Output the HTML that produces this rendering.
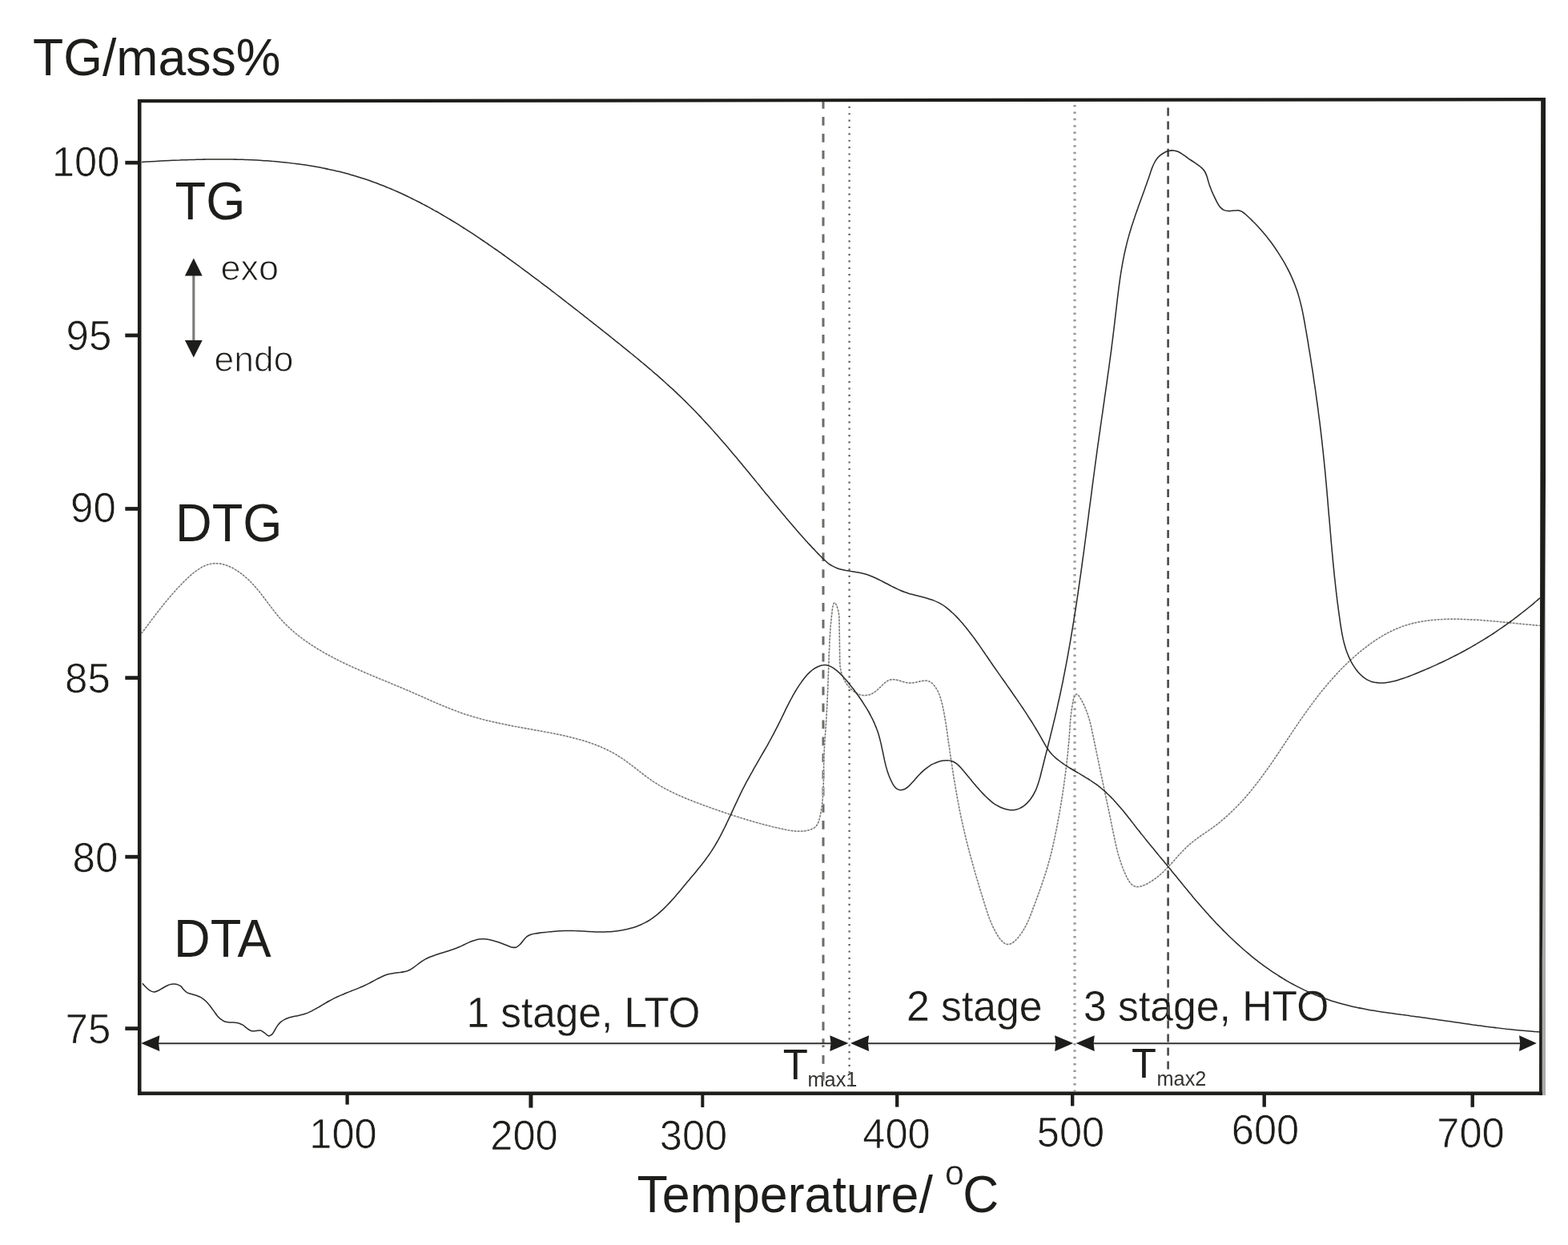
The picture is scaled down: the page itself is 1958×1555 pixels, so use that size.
<!DOCTYPE html>
<html lang="en">
<head>
<meta charset="utf-8">
<title>TG / DTG / DTA thermal analysis curves</title>
<style>
html,body{margin:0;padding:0;background:#fff;}
body{width:1958px;height:1555px;overflow:hidden;font-family:"Liberation Sans",Arial,Helvetica,sans-serif;}
svg{display:block;}
text{white-space:pre;}
</style>
</head>
<body>
<svg xmlns="http://www.w3.org/2000/svg" width="1958" height="1555" viewBox="0 0 1958 1555">
<rect width="1958" height="1555" fill="#fff"/>
<g id="labels" font-family="'Liberation Sans', Arial, Helvetica, sans-serif" fill="#1d1d1b" paint-order="fill stroke" stroke-linejoin="round">
<text transform="translate(41 93.6) scale(1 1.045)" font-size="62.6">TG/mass%</text>
<text transform="translate(149.3 220.2) scale(1 1.015)" font-size="50.6" text-anchor="end" stroke="#fff" stroke-width="0.7">100</text>
<text transform="translate(139.3 436.7) scale(1 1.015)" font-size="51" text-anchor="end" stroke="#fff" stroke-width="0.7">95</text>
<text transform="translate(144.8 652.2) scale(1 1.015)" font-size="51" text-anchor="end" stroke="#fff" stroke-width="0.7">90</text>
<text transform="translate(137.8 865.2) scale(1 1.015)" font-size="51" text-anchor="end" stroke="#fff" stroke-width="0.7">85</text>
<text transform="translate(147.3 1089.2) scale(1 1.015)" font-size="51" text-anchor="end" stroke="#fff" stroke-width="0.7">80</text>
<text transform="translate(138.3 1302.7) scale(1 1.015)" font-size="51" text-anchor="end" stroke="#fff" stroke-width="0.7">75</text>
<text transform="translate(428.5 1434.2) scale(1 1.015)" font-size="50.6" text-anchor="middle" stroke="#fff" stroke-width="0.7">100</text>
<text transform="translate(654.5 1435.6) scale(1 1.015)" font-size="50.6" text-anchor="middle" stroke="#fff" stroke-width="0.7">200</text>
<text transform="translate(866 1435.6) scale(1 1.015)" font-size="50.6" text-anchor="middle" stroke="#fff" stroke-width="0.7">300</text>
<text transform="translate(1119.5 1433.8) scale(1 1.015)" font-size="50.6" text-anchor="middle" stroke="#fff" stroke-width="0.7">400</text>
<text transform="translate(1337 1431.8) scale(1 1.015)" font-size="50.6" text-anchor="middle" stroke="#fff" stroke-width="0.7">500</text>
<text transform="translate(1580 1429.4) scale(1 1.015)" font-size="50.6" text-anchor="middle" stroke="#fff" stroke-width="0.7">600</text>
<text transform="translate(1836.5 1433) scale(1 1.015)" font-size="50.6" text-anchor="middle" stroke="#fff" stroke-width="0.7">700</text>
<text transform="translate(218.6 273.5) scale(1 1.045)" font-size="63.2">TG</text>
<text transform="translate(219 676.2) scale(1 1.045)" font-size="63.2">DTG</text>
<text transform="translate(217 1194.6) scale(1 1.045)" font-size="63.2">DTA</text>
<text x="275.6" y="350.4" font-size="45" stroke="#fff" stroke-width="1.0">exo</text>
<text x="267.6" y="464.3" font-size="44.4" stroke="#fff" stroke-width="1.0">endo</text>
<text transform="translate(582.5 1282.6) scale(1 1.03)" font-size="51.35" stroke="#fff" stroke-width="0.3">1 stage, LTO</text>
<text transform="translate(1132 1275.4) scale(1 1.03)" font-size="51.7" stroke="#fff" stroke-width="0.3">2 stage</text>
<text transform="translate(1353 1275.4) scale(1 1.03)" font-size="51.7" stroke="#fff" stroke-width="0.3">3 stage, HTO</text>
<text transform="translate(977.7 1348.2) scale(1 1.04)" font-size="51">T<tspan font-size="25.3" fill="#343432" dy="8.9" dx="-0.3">max1</tspan></text>
<text transform="translate(1413 1345.6) scale(1 1.04)" font-size="50.6">T<tspan font-size="25.3" fill="#343432" dy="9.8" dx="0.6">max2</tspan></text>
<text transform="translate(795.5 1514) scale(1 1.045)" font-size="62.7">Temperature/ <tspan font-size="43" dy="-33" dx="-2.2" stroke="#fff" stroke-width="0.5">o</tspan><tspan font-size="62.3" dy="33" dx="-1.6">C</tspan></text>
</g>
<g id="guides">
<line x1="1028" y1="125.1" x2="1028" y2="1358.5" stroke="#6c6c6a" stroke-width="3" stroke-dasharray="10.7 10.23"/>
<line x1="1060.6" y1="132.8" x2="1060.6" y2="1363" stroke="#626260" stroke-width="2.3" stroke-dasharray="2.2 6.17"/>
<line x1="1342" y1="131.1" x2="1342" y2="1363" stroke="#9a9a98" stroke-width="3.3" stroke-dasharray="2.5 5.87"/>
<line x1="1458.6" y1="134.6" x2="1458.6" y2="1335.6" stroke="#4a4a48" stroke-width="2.6" stroke-dasharray="10.1 6.912"/>
</g>
<g id="curves" fill="none" stroke-linejoin="round" stroke-linecap="butt">
<path d="M177.0 790.8C177.6 789.9 179.7 787.3 181.0 785.5C182.2 783.8 183.5 782.1 184.8 780.4C186.0 778.8 187.2 777.2 188.4 775.5C189.6 773.9 190.8 772.4 192.0 770.8C193.2 769.2 194.4 767.7 195.5 766.2C196.7 764.6 197.9 763.1 199.0 761.6C200.2 760.1 201.4 758.7 202.5 757.2C203.7 755.7 204.9 754.3 206.1 752.8C207.3 751.3 208.5 749.9 209.7 748.4C210.9 747.0 212.2 745.5 213.4 744.1C214.7 742.6 216.0 741.1 217.3 739.7C218.6 738.2 219.9 736.7 221.3 735.2C222.7 733.8 224.1 732.3 225.6 730.7C227.0 729.2 228.5 727.7 230.1 726.2C231.6 724.6 233.2 723.1 234.8 721.6C236.4 720.1 238.0 718.6 239.7 717.2C241.4 715.8 243.1 714.4 244.8 713.2C246.5 711.9 248.3 710.7 250.1 709.7C251.8 708.6 253.6 707.6 255.4 706.8C257.3 706.0 259.1 705.3 260.9 704.8C262.8 704.3 264.6 704.0 266.5 703.8C268.3 703.6 270.2 703.6 272.0 703.8C273.9 703.9 275.8 704.2 277.6 704.6C279.5 705.0 281.3 705.6 283.1 706.2C285.0 706.9 286.8 707.7 288.6 708.6C290.4 709.4 292.2 710.4 293.9 711.5C295.7 712.5 297.4 713.7 299.1 714.9C300.8 716.1 302.4 717.3 304.0 718.6C305.6 720.0 307.2 721.3 308.7 722.7C310.3 724.1 311.7 725.5 313.2 727.0C314.6 728.4 316.0 729.9 317.3 731.4C318.7 732.9 320.0 734.4 321.3 735.9C322.5 737.4 323.8 738.9 325.0 740.5C326.2 742.0 327.4 743.6 328.6 745.2C329.8 746.7 331.0 748.3 332.2 749.9C333.4 751.5 334.6 753.1 335.8 754.7C337.0 756.3 338.2 757.9 339.4 759.4C340.6 761.0 341.8 762.6 343.1 764.2C344.3 765.8 345.6 767.4 346.9 768.9C348.2 770.5 349.5 772.0 350.8 773.5C352.1 775.0 353.5 776.5 354.9 777.9C356.3 779.4 357.7 780.8 359.2 782.2C360.6 783.6 362.1 785.0 363.6 786.3C365.1 787.6 366.6 788.9 368.1 790.2C369.7 791.5 371.2 792.8 372.8 794.0C374.4 795.3 376.0 796.5 377.6 797.7C379.2 798.9 380.8 800.0 382.5 801.2C384.1 802.3 385.8 803.5 387.5 804.6C389.1 805.7 390.8 806.8 392.5 807.8C394.2 808.9 395.9 810.0 397.6 811.0C399.3 812.0 401.0 813.1 402.8 814.1C404.5 815.1 406.2 816.1 408.0 817.0C409.7 818.0 411.5 819.0 413.3 819.9C415.0 820.8 416.8 821.8 418.6 822.7C420.3 823.6 422.1 824.5 423.9 825.4C425.7 826.3 427.5 827.2 429.3 828.0C431.1 828.9 432.9 829.8 434.7 830.6C436.5 831.5 438.4 832.3 440.2 833.1C442.0 834.0 443.8 834.8 445.7 835.6C447.5 836.4 449.4 837.2 451.2 838.0C453.0 838.8 454.9 839.6 456.7 840.4C458.6 841.2 460.4 842.0 462.3 842.8C464.1 843.6 466.0 844.3 467.8 845.1C469.7 845.9 471.5 846.7 473.4 847.4C475.3 848.2 477.1 849.0 479.0 849.7C480.8 850.5 482.7 851.3 484.6 852.1C486.4 852.8 488.3 853.6 490.1 854.4C492.0 855.1 493.9 855.9 495.7 856.7C497.6 857.4 499.4 858.2 501.3 859.0C503.1 859.8 505.0 860.6 506.8 861.4C508.7 862.2 510.5 862.9 512.4 863.7C514.2 864.5 516.1 865.4 517.9 866.2C519.7 867.0 521.6 867.8 523.4 868.6C525.2 869.4 527.1 870.2 528.9 871.0C530.7 871.8 532.6 872.7 534.4 873.5C536.2 874.3 538.1 875.1 539.9 875.9C541.8 876.7 543.6 877.5 545.4 878.3C547.3 879.1 549.1 879.8 550.9 880.6C552.8 881.4 554.6 882.2 556.5 882.9C558.3 883.7 560.2 884.4 562.0 885.2C563.9 885.9 565.7 886.6 567.6 887.3C569.5 888.0 571.3 888.7 573.2 889.4C575.1 890.1 576.9 890.7 578.8 891.4C580.7 892.0 582.6 892.6 584.5 893.2C586.4 893.8 588.3 894.4 590.2 895.0C592.1 895.6 594.0 896.1 595.9 896.6C597.9 897.2 599.8 897.7 601.7 898.2C603.6 898.7 605.6 899.2 607.5 899.7C609.5 900.2 611.4 900.6 613.3 901.1C615.3 901.6 617.2 902.0 619.2 902.4C621.2 902.9 623.1 903.3 625.1 903.7C627.0 904.1 629.0 904.5 631.0 904.9C632.9 905.3 634.9 905.7 636.9 906.1C638.9 906.5 640.8 906.9 642.8 907.3C644.8 907.6 646.8 908.0 648.8 908.4C650.8 908.7 652.8 909.1 654.7 909.4C656.7 909.8 658.7 910.2 660.7 910.5C662.7 910.9 664.7 911.2 666.7 911.6C668.7 911.9 670.7 912.3 672.7 912.6C674.7 913.0 676.7 913.4 678.7 913.7C680.7 914.1 682.7 914.5 684.7 914.8C686.6 915.2 688.6 915.6 690.6 916.0C692.6 916.4 694.6 916.8 696.6 917.2C698.6 917.6 700.5 918.0 702.5 918.4C704.5 918.8 706.4 919.3 708.4 919.7C710.4 920.2 712.3 920.7 714.3 921.2C716.2 921.6 718.1 922.1 720.1 922.7C722.0 923.2 723.9 923.7 725.8 924.3C727.8 924.8 729.7 925.4 731.6 926.0C733.5 926.6 735.3 927.3 737.2 927.9C739.1 928.6 741.0 929.2 742.8 929.9C744.7 930.6 746.5 931.4 748.3 932.1C750.1 932.9 752.0 933.6 753.8 934.5C755.6 935.3 757.3 936.1 759.1 937.0C760.9 937.9 762.6 938.8 764.4 939.7C766.1 940.7 767.8 941.6 769.5 942.6C771.2 943.7 772.9 944.7 774.6 945.8C776.3 946.9 777.9 948.0 779.6 949.2C781.2 950.3 782.8 951.5 784.5 952.7C786.1 953.9 787.7 955.1 789.3 956.3C790.9 957.5 792.5 958.8 794.1 960.0C795.7 961.3 797.3 962.5 798.9 963.8C800.5 965.0 802.1 966.2 803.8 967.5C805.4 968.7 807.0 969.9 808.6 971.1C810.3 972.3 811.9 973.5 813.6 974.6C815.2 975.7 816.9 976.9 818.6 977.9C820.3 979.0 822.0 980.1 823.7 981.1C825.5 982.1 827.2 983.1 829.0 984.1C830.7 985.1 832.5 986.0 834.3 986.9C836.0 987.9 837.8 988.7 839.6 989.6C841.4 990.5 843.2 991.4 845.1 992.2C846.9 993.0 848.7 993.8 850.6 994.6C852.4 995.4 854.3 996.2 856.1 997.0C858.0 997.8 859.8 998.5 861.7 999.3C863.6 1000.0 865.4 1000.7 867.3 1001.5C869.2 1002.2 871.1 1002.9 873.0 1003.6C874.8 1004.3 876.7 1005.0 878.6 1005.7C880.5 1006.4 882.4 1007.1 884.3 1007.7C886.2 1008.4 888.1 1009.1 889.9 1009.8C891.8 1010.4 893.7 1011.1 895.6 1011.8C897.5 1012.4 899.4 1013.1 901.3 1013.7C903.2 1014.4 905.1 1015.0 907.0 1015.7C908.9 1016.3 910.8 1016.9 912.7 1017.6C914.6 1018.2 916.5 1018.8 918.4 1019.4C920.3 1020.0 922.2 1020.6 924.1 1021.2C926.0 1021.8 927.9 1022.4 929.9 1023.0C931.8 1023.6 933.7 1024.2 935.6 1024.7C937.5 1025.3 939.4 1025.9 941.4 1026.4C943.3 1027.0 945.2 1027.5 947.2 1028.0C949.1 1028.6 951.0 1029.1 953.0 1029.6C954.9 1030.1 956.8 1030.6 958.8 1031.1C960.7 1031.6 962.7 1032.1 964.6 1032.6C966.6 1033.0 968.5 1033.5 970.5 1033.9C972.5 1034.4 974.4 1034.8 976.4 1035.3C978.4 1035.7 980.3 1036.1 982.3 1036.5C984.3 1036.9 986.3 1037.2 988.3 1037.5C990.2 1037.8 992.2 1038.0 994.2 1038.2C996.2 1038.3 998.3 1038.3 1000.3 1038.2C1002.3 1038.2 1004.3 1038.0 1006.4 1037.6C1008.4 1037.3 1010.5 1036.8 1012.4 1036.1C1014.3 1035.4 1016.2 1034.5 1017.6 1033.3C1019.1 1032.1 1020.2 1030.5 1021.1 1028.8C1022.0 1027.1 1022.6 1025.0 1023.2 1023.1C1023.7 1021.1 1024.1 1019.0 1024.5 1017.0C1025.0 1015.0 1025.3 1013.0 1025.6 1011.0C1026.0 1008.9 1026.3 1006.9 1026.5 1004.9C1026.8 1002.9 1027.0 1000.9 1027.2 998.9C1027.4 996.9 1027.5 994.9 1027.7 992.9C1027.8 990.9 1027.9 988.9 1028.0 986.9C1028.1 984.9 1028.2 982.9 1028.2 980.9C1028.3 978.9 1028.4 976.9 1028.4 974.9C1028.4 972.9 1028.5 970.9 1028.5 968.9C1028.5 967.0 1028.5 965.0 1028.5 963.0C1028.6 961.0 1028.6 959.0 1028.6 957.0C1028.6 955.0 1028.7 953.0 1028.7 951.0C1028.8 949.0 1028.8 947.0 1028.9 945.0C1029.0 943.0 1029.1 940.9 1029.2 938.9C1029.3 936.9 1029.4 934.9 1029.5 932.9C1029.6 930.9 1029.7 928.9 1029.9 926.9C1030.0 924.8 1030.1 922.8 1030.3 920.8C1030.4 918.8 1030.6 916.8 1030.7 914.8C1030.9 912.8 1031.0 910.7 1031.2 908.7C1031.3 906.7 1031.4 904.7 1031.6 902.7C1031.7 900.7 1031.8 898.7 1032.0 896.7C1032.1 894.7 1032.2 892.7 1032.3 890.8C1032.4 888.8 1032.5 886.8 1032.6 884.8C1032.7 882.8 1032.8 880.8 1032.9 878.8C1033.0 876.8 1033.1 874.9 1033.2 872.9C1033.3 870.9 1033.4 868.9 1033.4 866.9C1033.5 864.9 1033.6 862.9 1033.7 860.9C1033.8 858.9 1033.8 856.9 1033.9 854.9C1034.0 852.9 1034.1 850.9 1034.1 848.9C1034.2 846.9 1034.3 844.9 1034.4 842.9C1034.4 840.9 1034.5 838.9 1034.6 836.9C1034.6 834.9 1034.7 832.8 1034.8 830.8C1034.9 828.8 1034.9 826.7 1035.0 824.7C1035.1 822.6 1035.2 820.6 1035.2 818.5C1035.3 816.5 1035.4 814.4 1035.5 812.4C1035.6 810.3 1035.7 808.2 1035.8 806.2C1035.8 804.2 1035.9 802.1 1036.0 800.1C1036.1 798.2 1036.2 796.2 1036.4 794.2C1036.5 792.3 1036.6 790.4 1036.7 788.6C1036.8 786.7 1037.0 785.0 1037.1 783.1C1037.2 781.3 1037.4 779.6 1037.6 777.7C1037.8 775.7 1038.0 773.8 1038.2 771.6C1038.4 769.3 1038.7 766.8 1039.0 764.3C1039.3 761.8 1039.7 758.4 1040.2 756.5C1040.7 754.6 1041.3 752.7 1042.1 752.8C1042.8 752.8 1044.0 754.9 1044.8 756.7C1045.6 758.5 1046.4 761.3 1046.9 763.4C1047.4 765.5 1047.6 767.5 1047.8 769.5C1048.0 771.5 1048.0 773.3 1048.0 775.3C1048.1 777.2 1048.1 779.1 1048.1 781.1C1048.1 783.0 1048.1 785.0 1048.2 787.0C1048.2 789.0 1048.2 791.0 1048.3 793.0C1048.3 795.0 1048.3 797.0 1048.4 799.0C1048.4 801.0 1048.4 803.1 1048.4 805.1C1048.5 807.1 1048.5 809.2 1048.5 811.2C1048.5 813.2 1048.6 815.3 1048.6 817.3C1048.6 819.3 1048.6 821.4 1048.6 823.4C1048.7 825.4 1048.7 827.4 1048.9 829.4C1049.0 831.4 1049.2 833.4 1049.6 835.3C1049.9 837.3 1050.3 839.3 1050.9 841.2C1051.5 843.1 1052.2 845.0 1053.0 846.8C1053.8 848.7 1054.8 850.5 1055.9 852.2C1056.9 853.9 1058.1 855.6 1059.4 857.1C1060.7 858.7 1062.2 860.2 1063.7 861.6C1065.2 862.9 1066.9 864.2 1068.6 865.2C1070.3 866.2 1072.1 867.1 1074.0 867.7C1075.8 868.2 1077.7 868.6 1079.6 868.6C1081.5 868.6 1083.5 868.3 1085.4 867.8C1087.3 867.2 1089.2 866.3 1091.0 865.2C1092.8 864.1 1094.4 862.7 1096.0 861.3C1097.6 859.9 1099.1 858.3 1100.7 856.8C1102.2 855.4 1103.7 853.8 1105.2 852.6C1106.8 851.4 1108.4 850.3 1110.1 849.6C1111.8 848.9 1113.6 848.6 1115.4 848.6C1117.3 848.6 1119.3 849.1 1121.3 849.6C1123.4 850.1 1125.5 850.8 1127.5 851.4C1129.5 851.9 1131.6 852.6 1133.6 852.8C1135.6 853.1 1137.4 853.1 1139.3 852.9C1141.3 852.8 1143.1 852.3 1145.1 851.9C1147.0 851.5 1149.1 850.9 1151.2 850.6C1153.2 850.3 1155.4 849.9 1157.4 850.2C1159.3 850.5 1161.1 851.3 1162.7 852.4C1164.3 853.5 1165.7 855.2 1167.0 856.8C1168.2 858.3 1169.3 860.1 1170.3 861.8C1171.3 863.6 1172.1 865.4 1172.8 867.2C1173.6 869.1 1174.2 871.0 1174.8 872.9C1175.4 874.8 1175.9 876.8 1176.4 878.8C1176.9 880.7 1177.3 882.7 1177.7 884.7C1178.1 886.6 1178.5 888.6 1178.9 890.6C1179.2 892.6 1179.6 894.5 1179.9 896.5C1180.3 898.5 1180.6 900.5 1180.9 902.5C1181.2 904.5 1181.5 906.4 1181.8 908.4C1182.1 910.4 1182.4 912.4 1182.7 914.4C1183.0 916.4 1183.2 918.3 1183.5 920.3C1183.8 922.3 1184.1 924.3 1184.3 926.3C1184.6 928.3 1184.9 930.2 1185.2 932.2C1185.5 934.2 1185.8 936.2 1186.0 938.2C1186.3 940.1 1186.6 942.1 1186.9 944.1C1187.2 946.1 1187.5 948.1 1187.8 950.0C1188.1 952.0 1188.4 954.0 1188.7 956.0C1189.0 957.9 1189.3 959.9 1189.6 961.9C1189.9 963.9 1190.2 965.9 1190.5 967.8C1190.8 969.8 1191.2 971.8 1191.5 973.8C1191.8 975.7 1192.1 977.7 1192.5 979.7C1192.8 981.6 1193.1 983.6 1193.5 985.6C1193.8 987.6 1194.2 989.5 1194.5 991.5C1194.9 993.5 1195.2 995.5 1195.6 997.4C1195.9 999.4 1196.3 1001.4 1196.7 1003.3C1197.1 1005.3 1197.4 1007.3 1197.8 1009.3C1198.2 1011.2 1198.6 1013.2 1199.0 1015.2C1199.4 1017.1 1199.8 1019.1 1200.2 1021.1C1200.6 1023.0 1201.1 1025.0 1201.5 1027.0C1201.9 1028.9 1202.4 1030.9 1202.8 1032.9C1203.2 1034.8 1203.7 1036.8 1204.2 1038.8C1204.6 1040.7 1205.1 1042.7 1205.6 1044.7C1206.0 1046.6 1206.5 1048.6 1207.0 1050.6C1207.5 1052.5 1208.0 1054.5 1208.5 1056.5C1209.0 1058.4 1209.5 1060.4 1210.0 1062.3C1210.5 1064.3 1211.1 1066.2 1211.6 1068.2C1212.1 1070.1 1212.6 1072.1 1213.2 1074.0C1213.7 1076.0 1214.3 1077.9 1214.8 1079.9C1215.3 1081.8 1215.9 1083.7 1216.4 1085.7C1217.0 1087.6 1217.6 1089.5 1218.1 1091.5C1218.7 1093.4 1219.2 1095.3 1219.8 1097.2C1220.4 1099.1 1220.9 1101.0 1221.5 1103.0C1222.1 1104.9 1222.7 1106.8 1223.2 1108.7C1223.8 1110.6 1224.4 1112.4 1224.9 1114.3C1225.5 1116.2 1226.1 1118.1 1226.7 1120.0C1227.3 1121.8 1227.8 1123.7 1228.4 1125.6C1229.0 1127.4 1229.6 1129.3 1230.1 1131.1C1230.7 1133.0 1231.3 1134.8 1231.9 1136.6C1232.5 1138.5 1233.1 1140.3 1233.7 1142.2C1234.4 1144.0 1235.0 1145.9 1235.8 1147.8C1236.5 1149.7 1237.3 1151.6 1238.1 1153.5C1239.0 1155.4 1239.8 1157.4 1240.8 1159.4C1241.8 1161.4 1242.9 1163.5 1244.1 1165.5C1245.2 1167.5 1246.5 1169.7 1247.8 1171.5C1249.2 1173.3 1250.6 1175.1 1252.1 1176.4C1253.5 1177.7 1255.1 1178.8 1256.6 1179.2C1258.2 1179.6 1259.8 1179.6 1261.5 1179.0C1263.1 1178.5 1264.8 1177.4 1266.4 1176.1C1268.0 1174.8 1269.6 1173.0 1271.1 1171.3C1272.5 1169.6 1273.9 1167.7 1275.2 1165.9C1276.5 1164.1 1277.6 1162.3 1278.7 1160.5C1279.8 1158.7 1280.7 1156.9 1281.6 1155.1C1282.5 1153.3 1283.4 1151.5 1284.2 1149.7C1284.9 1147.9 1285.7 1146.1 1286.4 1144.3C1287.1 1142.5 1287.8 1140.7 1288.5 1138.9C1289.1 1137.1 1289.8 1135.2 1290.5 1133.4C1291.2 1131.6 1291.9 1129.7 1292.6 1127.9C1293.3 1126.0 1294.0 1124.1 1294.7 1122.3C1295.3 1120.4 1296.0 1118.5 1296.7 1116.6C1297.4 1114.7 1298.1 1112.8 1298.8 1110.9C1299.4 1109.1 1300.1 1107.1 1300.8 1105.2C1301.4 1103.3 1302.1 1101.4 1302.7 1099.5C1303.4 1097.6 1304.0 1095.6 1304.6 1093.7C1305.3 1091.8 1305.9 1089.9 1306.5 1087.9C1307.1 1086.0 1307.6 1084.1 1308.2 1082.1C1308.8 1080.2 1309.3 1078.2 1309.8 1076.3C1310.4 1074.3 1310.9 1072.4 1311.4 1070.5C1311.9 1068.5 1312.4 1066.6 1312.9 1064.6C1313.3 1062.7 1313.8 1060.7 1314.3 1058.7C1314.7 1056.8 1315.2 1054.8 1315.6 1052.9C1316.0 1050.9 1316.5 1049.0 1316.9 1047.0C1317.3 1045.1 1317.7 1043.1 1318.1 1041.1C1318.5 1039.2 1318.9 1037.2 1319.3 1035.3C1319.7 1033.3 1320.0 1031.3 1320.4 1029.4C1320.8 1027.4 1321.1 1025.5 1321.5 1023.5C1321.9 1021.5 1322.2 1019.6 1322.6 1017.6C1322.9 1015.6 1323.3 1013.7 1323.6 1011.7C1324.0 1009.7 1324.3 1007.8 1324.6 1005.8C1324.9 1003.8 1325.3 1001.9 1325.6 999.9C1325.9 997.9 1326.2 995.9 1326.5 993.9C1326.8 992.0 1327.1 990.0 1327.4 988.0C1327.7 986.0 1328.0 984.0 1328.3 982.0C1328.6 980.0 1328.9 978.0 1329.1 976.0C1329.4 974.0 1329.7 972.0 1329.9 970.0C1330.2 967.9 1330.5 965.9 1330.7 963.9C1331.0 961.9 1331.2 959.8 1331.5 957.8C1331.7 955.8 1331.9 953.7 1332.2 951.7C1332.4 949.7 1332.6 947.7 1332.8 945.6C1333.0 943.6 1333.3 941.6 1333.5 939.6C1333.7 937.6 1333.9 935.6 1334.0 933.6C1334.2 931.6 1334.4 929.6 1334.6 927.7C1334.7 925.7 1334.9 923.8 1335.1 921.8C1335.2 919.9 1335.4 918.0 1335.5 916.1C1335.6 914.2 1335.7 912.4 1335.9 910.5C1336.0 908.6 1336.1 906.8 1336.3 904.9C1336.4 903.0 1336.6 901.1 1336.7 899.1C1336.9 897.2 1337.1 895.2 1337.3 893.1C1337.6 891.0 1337.8 888.9 1338.2 886.6C1338.5 884.4 1338.8 882.0 1339.3 879.6C1339.7 877.3 1340.1 874.5 1340.7 872.5C1341.3 870.5 1342.0 868.4 1342.9 867.6C1343.7 866.9 1344.8 867.0 1345.9 867.9C1347.0 868.7 1348.3 870.7 1349.4 872.6C1350.6 874.5 1351.9 877.0 1352.9 879.2C1354.0 881.5 1355.0 883.7 1355.9 885.9C1356.7 888.0 1357.5 890.1 1358.2 892.1C1358.9 894.2 1359.5 896.2 1360.1 898.1C1360.7 900.1 1361.2 902.0 1361.7 903.9C1362.1 905.8 1362.5 907.7 1363.0 909.5C1363.4 911.4 1363.8 913.3 1364.1 915.1C1364.5 917.0 1364.9 918.9 1365.3 920.8C1365.7 922.7 1366.1 924.6 1366.5 926.5C1366.9 928.4 1367.3 930.3 1367.7 932.2C1368.1 934.2 1368.5 936.1 1368.9 938.0C1369.3 939.9 1369.7 941.9 1370.1 943.8C1370.5 945.8 1370.9 947.7 1371.3 949.7C1371.7 951.6 1372.2 953.6 1372.6 955.6C1373.0 957.5 1373.4 959.5 1373.8 961.5C1374.2 963.4 1374.6 965.4 1375.0 967.4C1375.5 969.3 1375.9 971.3 1376.3 973.3C1376.7 975.3 1377.1 977.2 1377.5 979.2C1378.0 981.2 1378.4 983.2 1378.8 985.1C1379.2 987.1 1379.6 989.1 1380.0 991.1C1380.4 993.0 1380.9 995.0 1381.3 997.0C1381.7 998.9 1382.1 1000.9 1382.5 1002.9C1382.9 1004.8 1383.3 1006.8 1383.8 1008.7C1384.2 1010.7 1384.6 1012.7 1385.0 1014.6C1385.4 1016.6 1385.8 1018.5 1386.2 1020.5C1386.6 1022.4 1387.0 1024.4 1387.4 1026.3C1387.8 1028.3 1388.2 1030.2 1388.6 1032.2C1389.0 1034.1 1389.4 1036.1 1389.8 1038.0C1390.2 1040.0 1390.6 1041.9 1391.0 1043.9C1391.4 1045.8 1391.8 1047.8 1392.2 1049.7C1392.6 1051.6 1393.0 1053.6 1393.5 1055.5C1393.9 1057.5 1394.4 1059.4 1394.9 1061.4C1395.4 1063.3 1395.9 1065.2 1396.4 1067.2C1397.0 1069.1 1397.6 1071.1 1398.2 1073.0C1398.8 1074.9 1399.4 1076.9 1400.1 1078.8C1400.8 1080.8 1401.5 1082.7 1402.2 1084.7C1403.0 1086.6 1403.8 1088.6 1404.7 1090.5C1405.5 1092.4 1406.4 1094.4 1407.4 1096.3C1408.4 1098.2 1409.4 1100.1 1410.6 1101.7C1411.8 1103.2 1413.0 1104.7 1414.4 1105.7C1415.9 1106.7 1417.4 1107.4 1419.1 1107.6C1420.9 1107.8 1422.8 1107.5 1424.7 1107.0C1426.6 1106.5 1428.6 1105.6 1430.6 1104.7C1432.6 1103.8 1434.5 1102.6 1436.4 1101.5C1438.3 1100.4 1440.1 1099.1 1441.8 1097.9C1443.5 1096.7 1445.2 1095.4 1446.8 1094.1C1448.4 1092.8 1449.9 1091.4 1451.4 1090.0C1452.9 1088.7 1454.4 1087.2 1455.8 1085.8C1457.2 1084.4 1458.6 1083.0 1459.9 1081.5C1461.3 1080.1 1462.6 1078.6 1464.0 1077.1C1465.3 1075.6 1466.6 1074.2 1467.9 1072.7C1469.2 1071.2 1470.5 1069.8 1471.8 1068.3C1473.2 1066.8 1474.5 1065.4 1475.8 1064.0C1477.2 1062.5 1478.6 1061.1 1480.0 1059.7C1481.4 1058.4 1482.8 1057.0 1484.3 1055.7C1485.8 1054.3 1487.3 1053.1 1488.9 1051.8C1490.4 1050.5 1492.0 1049.3 1493.7 1048.1C1495.3 1046.9 1497.0 1045.7 1498.7 1044.5C1500.3 1043.4 1502.0 1042.2 1503.7 1041.0C1505.4 1039.9 1507.1 1038.7 1508.8 1037.6C1510.5 1036.4 1512.2 1035.2 1513.9 1034.0C1515.5 1032.8 1517.2 1031.6 1518.8 1030.4C1520.4 1029.1 1522.0 1027.9 1523.6 1026.6C1525.1 1025.3 1526.7 1024.0 1528.2 1022.7C1529.7 1021.4 1531.2 1020.1 1532.7 1018.7C1534.2 1017.4 1535.7 1016.0 1537.1 1014.7C1538.6 1013.3 1540.0 1011.9 1541.4 1010.5C1542.8 1009.1 1544.2 1007.7 1545.6 1006.2C1547.0 1004.8 1548.4 1003.4 1549.7 1001.9C1551.1 1000.4 1552.4 999.0 1553.7 997.5C1555.0 996.0 1556.3 994.5 1557.6 993.0C1558.9 991.5 1560.2 990.0 1561.5 988.4C1562.7 986.9 1564.0 985.3 1565.2 983.8C1566.5 982.2 1567.7 980.7 1568.9 979.1C1570.1 977.5 1571.3 975.9 1572.5 974.4C1573.7 972.8 1574.9 971.2 1576.1 969.6C1577.3 968.0 1578.5 966.3 1579.6 964.7C1580.8 963.1 1582.0 961.5 1583.1 959.8C1584.3 958.2 1585.4 956.6 1586.5 954.9C1587.7 953.3 1588.8 951.6 1590.0 950.0C1591.1 948.3 1592.2 946.7 1593.3 945.0C1594.5 943.4 1595.6 941.7 1596.7 940.0C1597.8 938.4 1598.9 936.7 1600.0 935.0C1601.1 933.3 1602.3 931.7 1603.4 930.0C1604.5 928.3 1605.6 926.6 1606.7 925.0C1607.8 923.3 1608.9 921.6 1610.0 919.9C1611.2 918.3 1612.3 916.6 1613.4 914.9C1614.5 913.2 1615.6 911.6 1616.7 909.9C1617.9 908.2 1619.0 906.5 1620.1 904.9C1621.3 903.2 1622.4 901.5 1623.5 899.9C1624.7 898.2 1625.8 896.6 1627.0 894.9C1628.1 893.3 1629.3 891.6 1630.5 890.0C1631.6 888.3 1632.8 886.7 1634.0 885.1C1635.2 883.4 1636.4 881.8 1637.6 880.2C1638.7 878.6 1640.0 877.0 1641.2 875.3C1642.4 873.7 1643.6 872.1 1644.8 870.5C1646.1 869.0 1647.3 867.4 1648.5 865.8C1649.8 864.2 1651.1 862.7 1652.3 861.1C1653.6 859.5 1654.9 858.0 1656.2 856.5C1657.4 854.9 1658.7 853.4 1660.1 851.9C1661.4 850.4 1662.7 848.9 1664.0 847.4C1665.4 845.9 1666.7 844.4 1668.1 842.9C1669.4 841.4 1670.8 840.0 1672.2 838.5C1673.5 837.1 1674.9 835.6 1676.3 834.2C1677.7 832.8 1679.2 831.4 1680.6 830.0C1682.0 828.6 1683.5 827.2 1684.9 825.8C1686.4 824.5 1687.9 823.1 1689.4 821.8C1690.8 820.4 1692.4 819.1 1693.9 817.8C1695.4 816.5 1696.9 815.2 1698.5 813.9C1700.0 812.7 1701.6 811.4 1703.2 810.2C1704.7 808.9 1706.3 807.7 1708.0 806.5C1709.6 805.3 1711.2 804.1 1712.8 803.0C1714.5 801.8 1716.2 800.7 1717.8 799.5C1719.5 798.4 1721.2 797.4 1722.9 796.3C1724.6 795.2 1726.3 794.2 1728.1 793.2C1729.8 792.2 1731.6 791.3 1733.4 790.3C1735.1 789.4 1736.9 788.5 1738.7 787.7C1740.5 786.8 1742.3 786.0 1744.2 785.2C1746.0 784.4 1747.9 783.7 1749.7 783.0C1751.6 782.3 1753.5 781.6 1755.4 781.0C1757.3 780.4 1759.2 779.9 1761.1 779.3C1763.1 778.8 1765.0 778.3 1767.0 777.9C1768.9 777.5 1770.9 777.1 1772.8 776.7C1774.8 776.3 1776.8 776.0 1778.8 775.7C1780.8 775.4 1782.8 775.1 1784.8 774.9C1786.8 774.6 1788.8 774.4 1790.8 774.3C1792.8 774.1 1794.9 773.9 1796.9 773.8C1798.9 773.7 1800.9 773.6 1803.0 773.5C1805.0 773.4 1807.0 773.4 1809.1 773.3C1811.1 773.3 1813.1 773.3 1815.1 773.3C1817.1 773.3 1819.2 773.3 1821.2 773.3C1823.2 773.4 1825.2 773.4 1827.2 773.5C1829.2 773.5 1831.2 773.6 1833.2 773.7C1835.2 773.8 1837.2 773.9 1839.2 774.0C1841.2 774.1 1843.2 774.2 1845.2 774.3C1847.2 774.4 1849.2 774.6 1851.2 774.7C1853.2 774.9 1855.2 775.0 1857.2 775.2C1859.1 775.3 1861.1 775.5 1863.1 775.7C1865.1 775.9 1867.1 776.0 1869.1 776.2C1871.1 776.4 1873.1 776.6 1875.0 776.8C1877.0 777.0 1879.0 777.2 1881.0 777.4C1883.0 777.6 1885.0 777.8 1887.0 778.0C1889.0 778.2 1890.9 778.4 1892.9 778.6C1894.9 778.8 1896.9 779.0 1898.9 779.2C1900.9 779.4 1902.9 779.6 1904.9 779.8C1906.9 780.0 1908.9 780.2 1910.9 780.3C1913.0 780.5 1915.0 780.7 1917.0 780.9C1919.0 781.1 1922.0 781.3 1923.0 781.4" stroke="#c4c4c2" stroke-width="1.6"/>
<path d="M177.0 790.8C177.6 789.9 179.7 787.3 181.0 785.5C182.2 783.8 183.5 782.1 184.8 780.4C186.0 778.8 187.2 777.2 188.4 775.5C189.6 773.9 190.8 772.4 192.0 770.8C193.2 769.2 194.4 767.7 195.5 766.2C196.7 764.6 197.9 763.1 199.0 761.6C200.2 760.1 201.4 758.7 202.5 757.2C203.7 755.7 204.9 754.3 206.1 752.8C207.3 751.3 208.5 749.9 209.7 748.4C210.9 747.0 212.2 745.5 213.4 744.1C214.7 742.6 216.0 741.1 217.3 739.7C218.6 738.2 219.9 736.7 221.3 735.2C222.7 733.8 224.1 732.3 225.6 730.7C227.0 729.2 228.5 727.7 230.1 726.2C231.6 724.6 233.2 723.1 234.8 721.6C236.4 720.1 238.0 718.6 239.7 717.2C241.4 715.8 243.1 714.4 244.8 713.2C246.5 711.9 248.3 710.7 250.1 709.7C251.8 708.6 253.6 707.6 255.4 706.8C257.3 706.0 259.1 705.3 260.9 704.8C262.8 704.3 264.6 704.0 266.5 703.8C268.3 703.6 270.2 703.6 272.0 703.8C273.9 703.9 275.8 704.2 277.6 704.6C279.5 705.0 281.3 705.6 283.1 706.2C285.0 706.9 286.8 707.7 288.6 708.6C290.4 709.4 292.2 710.4 293.9 711.5C295.7 712.5 297.4 713.7 299.1 714.9C300.8 716.1 302.4 717.3 304.0 718.6C305.6 720.0 307.2 721.3 308.7 722.7C310.3 724.1 311.7 725.5 313.2 727.0C314.6 728.4 316.0 729.9 317.3 731.4C318.7 732.9 320.0 734.4 321.3 735.9C322.5 737.4 323.8 738.9 325.0 740.5C326.2 742.0 327.4 743.6 328.6 745.2C329.8 746.7 331.0 748.3 332.2 749.9C333.4 751.5 334.6 753.1 335.8 754.7C337.0 756.3 338.2 757.9 339.4 759.4C340.6 761.0 341.8 762.6 343.1 764.2C344.3 765.8 345.6 767.4 346.9 768.9C348.2 770.5 349.5 772.0 350.8 773.5C352.1 775.0 353.5 776.5 354.9 777.9C356.3 779.4 357.7 780.8 359.2 782.2C360.6 783.6 362.1 785.0 363.6 786.3C365.1 787.6 366.6 788.9 368.1 790.2C369.7 791.5 371.2 792.8 372.8 794.0C374.4 795.3 376.0 796.5 377.6 797.7C379.2 798.9 380.8 800.0 382.5 801.2C384.1 802.3 385.8 803.5 387.5 804.6C389.1 805.7 390.8 806.8 392.5 807.8C394.2 808.9 395.9 810.0 397.6 811.0C399.3 812.0 401.0 813.1 402.8 814.1C404.5 815.1 406.2 816.1 408.0 817.0C409.7 818.0 411.5 819.0 413.3 819.9C415.0 820.8 416.8 821.8 418.6 822.7C420.3 823.6 422.1 824.5 423.9 825.4C425.7 826.3 427.5 827.2 429.3 828.0C431.1 828.9 432.9 829.8 434.7 830.6C436.5 831.5 438.4 832.3 440.2 833.1C442.0 834.0 443.8 834.8 445.7 835.6C447.5 836.4 449.4 837.2 451.2 838.0C453.0 838.8 454.9 839.6 456.7 840.4C458.6 841.2 460.4 842.0 462.3 842.8C464.1 843.6 466.0 844.3 467.8 845.1C469.7 845.9 471.5 846.7 473.4 847.4C475.3 848.2 477.1 849.0 479.0 849.7C480.8 850.5 482.7 851.3 484.6 852.1C486.4 852.8 488.3 853.6 490.1 854.4C492.0 855.1 493.9 855.9 495.7 856.7C497.6 857.4 499.4 858.2 501.3 859.0C503.1 859.8 505.0 860.6 506.8 861.4C508.7 862.2 510.5 862.9 512.4 863.7C514.2 864.5 516.1 865.4 517.9 866.2C519.7 867.0 521.6 867.8 523.4 868.6C525.2 869.4 527.1 870.2 528.9 871.0C530.7 871.8 532.6 872.7 534.4 873.5C536.2 874.3 538.1 875.1 539.9 875.9C541.8 876.7 543.6 877.5 545.4 878.3C547.3 879.1 549.1 879.8 550.9 880.6C552.8 881.4 554.6 882.2 556.5 882.9C558.3 883.7 560.2 884.4 562.0 885.2C563.9 885.9 565.7 886.6 567.6 887.3C569.5 888.0 571.3 888.7 573.2 889.4C575.1 890.1 576.9 890.7 578.8 891.4C580.7 892.0 582.6 892.6 584.5 893.2C586.4 893.8 588.3 894.4 590.2 895.0C592.1 895.6 594.0 896.1 595.9 896.6C597.9 897.2 599.8 897.7 601.7 898.2C603.6 898.7 605.6 899.2 607.5 899.7C609.5 900.2 611.4 900.6 613.3 901.1C615.3 901.6 617.2 902.0 619.2 902.4C621.2 902.9 623.1 903.3 625.1 903.7C627.0 904.1 629.0 904.5 631.0 904.9C632.9 905.3 634.9 905.7 636.9 906.1C638.9 906.5 640.8 906.9 642.8 907.3C644.8 907.6 646.8 908.0 648.8 908.4C650.8 908.7 652.8 909.1 654.7 909.4C656.7 909.8 658.7 910.2 660.7 910.5C662.7 910.9 664.7 911.2 666.7 911.6C668.7 911.9 670.7 912.3 672.7 912.6C674.7 913.0 676.7 913.4 678.7 913.7C680.7 914.1 682.7 914.5 684.7 914.8C686.6 915.2 688.6 915.6 690.6 916.0C692.6 916.4 694.6 916.8 696.6 917.2C698.6 917.6 700.5 918.0 702.5 918.4C704.5 918.8 706.4 919.3 708.4 919.7C710.4 920.2 712.3 920.7 714.3 921.2C716.2 921.6 718.1 922.1 720.1 922.7C722.0 923.2 723.9 923.7 725.8 924.3C727.8 924.8 729.7 925.4 731.6 926.0C733.5 926.6 735.3 927.3 737.2 927.9C739.1 928.6 741.0 929.2 742.8 929.9C744.7 930.6 746.5 931.4 748.3 932.1C750.1 932.9 752.0 933.6 753.8 934.5C755.6 935.3 757.3 936.1 759.1 937.0C760.9 937.9 762.6 938.8 764.4 939.7C766.1 940.7 767.8 941.6 769.5 942.6C771.2 943.7 772.9 944.7 774.6 945.8C776.3 946.9 777.9 948.0 779.6 949.2C781.2 950.3 782.8 951.5 784.5 952.7C786.1 953.9 787.7 955.1 789.3 956.3C790.9 957.5 792.5 958.8 794.1 960.0C795.7 961.3 797.3 962.5 798.9 963.8C800.5 965.0 802.1 966.2 803.8 967.5C805.4 968.7 807.0 969.9 808.6 971.1C810.3 972.3 811.9 973.5 813.6 974.6C815.2 975.7 816.9 976.9 818.6 977.9C820.3 979.0 822.0 980.1 823.7 981.1C825.5 982.1 827.2 983.1 829.0 984.1C830.7 985.1 832.5 986.0 834.3 986.9C836.0 987.9 837.8 988.7 839.6 989.6C841.4 990.5 843.2 991.4 845.1 992.2C846.9 993.0 848.7 993.8 850.6 994.6C852.4 995.4 854.3 996.2 856.1 997.0C858.0 997.8 859.8 998.5 861.7 999.3C863.6 1000.0 865.4 1000.7 867.3 1001.5C869.2 1002.2 871.1 1002.9 873.0 1003.6C874.8 1004.3 876.7 1005.0 878.6 1005.7C880.5 1006.4 882.4 1007.1 884.3 1007.7C886.2 1008.4 888.1 1009.1 889.9 1009.8C891.8 1010.4 893.7 1011.1 895.6 1011.8C897.5 1012.4 899.4 1013.1 901.3 1013.7C903.2 1014.4 905.1 1015.0 907.0 1015.7C908.9 1016.3 910.8 1016.9 912.7 1017.6C914.6 1018.2 916.5 1018.8 918.4 1019.4C920.3 1020.0 922.2 1020.6 924.1 1021.2C926.0 1021.8 927.9 1022.4 929.9 1023.0C931.8 1023.6 933.7 1024.2 935.6 1024.7C937.5 1025.3 939.4 1025.9 941.4 1026.4C943.3 1027.0 945.2 1027.5 947.2 1028.0C949.1 1028.6 951.0 1029.1 953.0 1029.6C954.9 1030.1 956.8 1030.6 958.8 1031.1C960.7 1031.6 962.7 1032.1 964.6 1032.6C966.6 1033.0 968.5 1033.5 970.5 1033.9C972.5 1034.4 974.4 1034.8 976.4 1035.3C978.4 1035.7 980.3 1036.1 982.3 1036.5C984.3 1036.9 986.3 1037.2 988.3 1037.5C990.2 1037.8 992.2 1038.0 994.2 1038.2C996.2 1038.3 998.3 1038.3 1000.3 1038.2C1002.3 1038.2 1004.3 1038.0 1006.4 1037.6C1008.4 1037.3 1010.5 1036.8 1012.4 1036.1C1014.3 1035.4 1016.2 1034.5 1017.6 1033.3C1019.1 1032.1 1020.2 1030.5 1021.1 1028.8C1022.0 1027.1 1022.6 1025.0 1023.2 1023.1C1023.7 1021.1 1024.1 1019.0 1024.5 1017.0C1025.0 1015.0 1025.3 1013.0 1025.6 1011.0C1026.0 1008.9 1026.3 1006.9 1026.5 1004.9C1026.8 1002.9 1027.0 1000.9 1027.2 998.9C1027.4 996.9 1027.5 994.9 1027.7 992.9C1027.8 990.9 1027.9 988.9 1028.0 986.9C1028.1 984.9 1028.2 982.9 1028.2 980.9C1028.3 978.9 1028.4 976.9 1028.4 974.9C1028.4 972.9 1028.5 970.9 1028.5 968.9C1028.5 967.0 1028.5 965.0 1028.5 963.0C1028.6 961.0 1028.6 959.0 1028.6 957.0C1028.6 955.0 1028.7 953.0 1028.7 951.0C1028.8 949.0 1028.8 947.0 1028.9 945.0C1029.0 943.0 1029.1 940.9 1029.2 938.9C1029.3 936.9 1029.4 934.9 1029.5 932.9C1029.6 930.9 1029.7 928.9 1029.9 926.9C1030.0 924.8 1030.1 922.8 1030.3 920.8C1030.4 918.8 1030.6 916.8 1030.7 914.8C1030.9 912.8 1031.0 910.7 1031.2 908.7C1031.3 906.7 1031.4 904.7 1031.6 902.7C1031.7 900.7 1031.8 898.7 1032.0 896.7C1032.1 894.7 1032.2 892.7 1032.3 890.8C1032.4 888.8 1032.5 886.8 1032.6 884.8C1032.7 882.8 1032.8 880.8 1032.9 878.8C1033.0 876.8 1033.1 874.9 1033.2 872.9C1033.3 870.9 1033.4 868.9 1033.4 866.9C1033.5 864.9 1033.6 862.9 1033.7 860.9C1033.8 858.9 1033.8 856.9 1033.9 854.9C1034.0 852.9 1034.1 850.9 1034.1 848.9C1034.2 846.9 1034.3 844.9 1034.4 842.9C1034.4 840.9 1034.5 838.9 1034.6 836.9C1034.6 834.9 1034.7 832.8 1034.8 830.8C1034.9 828.8 1034.9 826.7 1035.0 824.7C1035.1 822.6 1035.2 820.6 1035.2 818.5C1035.3 816.5 1035.4 814.4 1035.5 812.4C1035.6 810.3 1035.7 808.2 1035.8 806.2C1035.8 804.2 1035.9 802.1 1036.0 800.1C1036.1 798.2 1036.2 796.2 1036.4 794.2C1036.5 792.3 1036.6 790.4 1036.7 788.6C1036.8 786.7 1037.0 785.0 1037.1 783.1C1037.2 781.3 1037.4 779.6 1037.6 777.7C1037.8 775.7 1038.0 773.8 1038.2 771.6C1038.4 769.3 1038.7 766.8 1039.0 764.3C1039.3 761.8 1039.7 758.4 1040.2 756.5C1040.7 754.6 1041.3 752.7 1042.1 752.8C1042.8 752.8 1044.0 754.9 1044.8 756.7C1045.6 758.5 1046.4 761.3 1046.9 763.4C1047.4 765.5 1047.6 767.5 1047.8 769.5C1048.0 771.5 1048.0 773.3 1048.0 775.3C1048.1 777.2 1048.1 779.1 1048.1 781.1C1048.1 783.0 1048.1 785.0 1048.2 787.0C1048.2 789.0 1048.2 791.0 1048.3 793.0C1048.3 795.0 1048.3 797.0 1048.4 799.0C1048.4 801.0 1048.4 803.1 1048.4 805.1C1048.5 807.1 1048.5 809.2 1048.5 811.2C1048.5 813.2 1048.6 815.3 1048.6 817.3C1048.6 819.3 1048.6 821.4 1048.6 823.4C1048.7 825.4 1048.7 827.4 1048.9 829.4C1049.0 831.4 1049.2 833.4 1049.6 835.3C1049.9 837.3 1050.3 839.3 1050.9 841.2C1051.5 843.1 1052.2 845.0 1053.0 846.8C1053.8 848.7 1054.8 850.5 1055.9 852.2C1056.9 853.9 1058.1 855.6 1059.4 857.1C1060.7 858.7 1062.2 860.2 1063.7 861.6C1065.2 862.9 1066.9 864.2 1068.6 865.2C1070.3 866.2 1072.1 867.1 1074.0 867.7C1075.8 868.2 1077.7 868.6 1079.6 868.6C1081.5 868.6 1083.5 868.3 1085.4 867.8C1087.3 867.2 1089.2 866.3 1091.0 865.2C1092.8 864.1 1094.4 862.7 1096.0 861.3C1097.6 859.9 1099.1 858.3 1100.7 856.8C1102.2 855.4 1103.7 853.8 1105.2 852.6C1106.8 851.4 1108.4 850.3 1110.1 849.6C1111.8 848.9 1113.6 848.6 1115.4 848.6C1117.3 848.6 1119.3 849.1 1121.3 849.6C1123.4 850.1 1125.5 850.8 1127.5 851.4C1129.5 851.9 1131.6 852.6 1133.6 852.8C1135.6 853.1 1137.4 853.1 1139.3 852.9C1141.3 852.8 1143.1 852.3 1145.1 851.9C1147.0 851.5 1149.1 850.9 1151.2 850.6C1153.2 850.3 1155.4 849.9 1157.4 850.2C1159.3 850.5 1161.1 851.3 1162.7 852.4C1164.3 853.5 1165.7 855.2 1167.0 856.8C1168.2 858.3 1169.3 860.1 1170.3 861.8C1171.3 863.6 1172.1 865.4 1172.8 867.2C1173.6 869.1 1174.2 871.0 1174.8 872.9C1175.4 874.8 1175.9 876.8 1176.4 878.8C1176.9 880.7 1177.3 882.7 1177.7 884.7C1178.1 886.6 1178.5 888.6 1178.9 890.6C1179.2 892.6 1179.6 894.5 1179.9 896.5C1180.3 898.5 1180.6 900.5 1180.9 902.5C1181.2 904.5 1181.5 906.4 1181.8 908.4C1182.1 910.4 1182.4 912.4 1182.7 914.4C1183.0 916.4 1183.2 918.3 1183.5 920.3C1183.8 922.3 1184.1 924.3 1184.3 926.3C1184.6 928.3 1184.9 930.2 1185.2 932.2C1185.5 934.2 1185.8 936.2 1186.0 938.2C1186.3 940.1 1186.6 942.1 1186.9 944.1C1187.2 946.1 1187.5 948.1 1187.8 950.0C1188.1 952.0 1188.4 954.0 1188.7 956.0C1189.0 957.9 1189.3 959.9 1189.6 961.9C1189.9 963.9 1190.2 965.9 1190.5 967.8C1190.8 969.8 1191.2 971.8 1191.5 973.8C1191.8 975.7 1192.1 977.7 1192.5 979.7C1192.8 981.6 1193.1 983.6 1193.5 985.6C1193.8 987.6 1194.2 989.5 1194.5 991.5C1194.9 993.5 1195.2 995.5 1195.6 997.4C1195.9 999.4 1196.3 1001.4 1196.7 1003.3C1197.1 1005.3 1197.4 1007.3 1197.8 1009.3C1198.2 1011.2 1198.6 1013.2 1199.0 1015.2C1199.4 1017.1 1199.8 1019.1 1200.2 1021.1C1200.6 1023.0 1201.1 1025.0 1201.5 1027.0C1201.9 1028.9 1202.4 1030.9 1202.8 1032.9C1203.2 1034.8 1203.7 1036.8 1204.2 1038.8C1204.6 1040.7 1205.1 1042.7 1205.6 1044.7C1206.0 1046.6 1206.5 1048.6 1207.0 1050.6C1207.5 1052.5 1208.0 1054.5 1208.5 1056.5C1209.0 1058.4 1209.5 1060.4 1210.0 1062.3C1210.5 1064.3 1211.1 1066.2 1211.6 1068.2C1212.1 1070.1 1212.6 1072.1 1213.2 1074.0C1213.7 1076.0 1214.3 1077.9 1214.8 1079.9C1215.3 1081.8 1215.9 1083.7 1216.4 1085.7C1217.0 1087.6 1217.6 1089.5 1218.1 1091.5C1218.7 1093.4 1219.2 1095.3 1219.8 1097.2C1220.4 1099.1 1220.9 1101.0 1221.5 1103.0C1222.1 1104.9 1222.7 1106.8 1223.2 1108.7C1223.8 1110.6 1224.4 1112.4 1224.9 1114.3C1225.5 1116.2 1226.1 1118.1 1226.7 1120.0C1227.3 1121.8 1227.8 1123.7 1228.4 1125.6C1229.0 1127.4 1229.6 1129.3 1230.1 1131.1C1230.7 1133.0 1231.3 1134.8 1231.9 1136.6C1232.5 1138.5 1233.1 1140.3 1233.7 1142.2C1234.4 1144.0 1235.0 1145.9 1235.8 1147.8C1236.5 1149.7 1237.3 1151.6 1238.1 1153.5C1239.0 1155.4 1239.8 1157.4 1240.8 1159.4C1241.8 1161.4 1242.9 1163.5 1244.1 1165.5C1245.2 1167.5 1246.5 1169.7 1247.8 1171.5C1249.2 1173.3 1250.6 1175.1 1252.1 1176.4C1253.5 1177.7 1255.1 1178.8 1256.6 1179.2C1258.2 1179.6 1259.8 1179.6 1261.5 1179.0C1263.1 1178.5 1264.8 1177.4 1266.4 1176.1C1268.0 1174.8 1269.6 1173.0 1271.1 1171.3C1272.5 1169.6 1273.9 1167.7 1275.2 1165.9C1276.5 1164.1 1277.6 1162.3 1278.7 1160.5C1279.8 1158.7 1280.7 1156.9 1281.6 1155.1C1282.5 1153.3 1283.4 1151.5 1284.2 1149.7C1284.9 1147.9 1285.7 1146.1 1286.4 1144.3C1287.1 1142.5 1287.8 1140.7 1288.5 1138.9C1289.1 1137.1 1289.8 1135.2 1290.5 1133.4C1291.2 1131.6 1291.9 1129.7 1292.6 1127.9C1293.3 1126.0 1294.0 1124.1 1294.7 1122.3C1295.3 1120.4 1296.0 1118.5 1296.7 1116.6C1297.4 1114.7 1298.1 1112.8 1298.8 1110.9C1299.4 1109.1 1300.1 1107.1 1300.8 1105.2C1301.4 1103.3 1302.1 1101.4 1302.7 1099.5C1303.4 1097.6 1304.0 1095.6 1304.6 1093.7C1305.3 1091.8 1305.9 1089.9 1306.5 1087.9C1307.1 1086.0 1307.6 1084.1 1308.2 1082.1C1308.8 1080.2 1309.3 1078.2 1309.8 1076.3C1310.4 1074.3 1310.9 1072.4 1311.4 1070.5C1311.9 1068.5 1312.4 1066.6 1312.9 1064.6C1313.3 1062.7 1313.8 1060.7 1314.3 1058.7C1314.7 1056.8 1315.2 1054.8 1315.6 1052.9C1316.0 1050.9 1316.5 1049.0 1316.9 1047.0C1317.3 1045.1 1317.7 1043.1 1318.1 1041.1C1318.5 1039.2 1318.9 1037.2 1319.3 1035.3C1319.7 1033.3 1320.0 1031.3 1320.4 1029.4C1320.8 1027.4 1321.1 1025.5 1321.5 1023.5C1321.9 1021.5 1322.2 1019.6 1322.6 1017.6C1322.9 1015.6 1323.3 1013.7 1323.6 1011.7C1324.0 1009.7 1324.3 1007.8 1324.6 1005.8C1324.9 1003.8 1325.3 1001.9 1325.6 999.9C1325.9 997.9 1326.2 995.9 1326.5 993.9C1326.8 992.0 1327.1 990.0 1327.4 988.0C1327.7 986.0 1328.0 984.0 1328.3 982.0C1328.6 980.0 1328.9 978.0 1329.1 976.0C1329.4 974.0 1329.7 972.0 1329.9 970.0C1330.2 967.9 1330.5 965.9 1330.7 963.9C1331.0 961.9 1331.2 959.8 1331.5 957.8C1331.7 955.8 1331.9 953.7 1332.2 951.7C1332.4 949.7 1332.6 947.7 1332.8 945.6C1333.0 943.6 1333.3 941.6 1333.5 939.6C1333.7 937.6 1333.9 935.6 1334.0 933.6C1334.2 931.6 1334.4 929.6 1334.6 927.7C1334.7 925.7 1334.9 923.8 1335.1 921.8C1335.2 919.9 1335.4 918.0 1335.5 916.1C1335.6 914.2 1335.7 912.4 1335.9 910.5C1336.0 908.6 1336.1 906.8 1336.3 904.9C1336.4 903.0 1336.6 901.1 1336.7 899.1C1336.9 897.2 1337.1 895.2 1337.3 893.1C1337.6 891.0 1337.8 888.9 1338.2 886.6C1338.5 884.4 1338.8 882.0 1339.3 879.6C1339.7 877.3 1340.1 874.5 1340.7 872.5C1341.3 870.5 1342.0 868.4 1342.9 867.6C1343.7 866.9 1344.8 867.0 1345.9 867.9C1347.0 868.7 1348.3 870.7 1349.4 872.6C1350.6 874.5 1351.9 877.0 1352.9 879.2C1354.0 881.5 1355.0 883.7 1355.9 885.9C1356.7 888.0 1357.5 890.1 1358.2 892.1C1358.9 894.2 1359.5 896.2 1360.1 898.1C1360.7 900.1 1361.2 902.0 1361.7 903.9C1362.1 905.8 1362.5 907.7 1363.0 909.5C1363.4 911.4 1363.8 913.3 1364.1 915.1C1364.5 917.0 1364.9 918.9 1365.3 920.8C1365.7 922.7 1366.1 924.6 1366.5 926.5C1366.9 928.4 1367.3 930.3 1367.7 932.2C1368.1 934.2 1368.5 936.1 1368.9 938.0C1369.3 939.9 1369.7 941.9 1370.1 943.8C1370.5 945.8 1370.9 947.7 1371.3 949.7C1371.7 951.6 1372.2 953.6 1372.6 955.6C1373.0 957.5 1373.4 959.5 1373.8 961.5C1374.2 963.4 1374.6 965.4 1375.0 967.4C1375.5 969.3 1375.9 971.3 1376.3 973.3C1376.7 975.3 1377.1 977.2 1377.5 979.2C1378.0 981.2 1378.4 983.2 1378.8 985.1C1379.2 987.1 1379.6 989.1 1380.0 991.1C1380.4 993.0 1380.9 995.0 1381.3 997.0C1381.7 998.9 1382.1 1000.9 1382.5 1002.9C1382.9 1004.8 1383.3 1006.8 1383.8 1008.7C1384.2 1010.7 1384.6 1012.7 1385.0 1014.6C1385.4 1016.6 1385.8 1018.5 1386.2 1020.5C1386.6 1022.4 1387.0 1024.4 1387.4 1026.3C1387.8 1028.3 1388.2 1030.2 1388.6 1032.2C1389.0 1034.1 1389.4 1036.1 1389.8 1038.0C1390.2 1040.0 1390.6 1041.9 1391.0 1043.9C1391.4 1045.8 1391.8 1047.8 1392.2 1049.7C1392.6 1051.6 1393.0 1053.6 1393.5 1055.5C1393.9 1057.5 1394.4 1059.4 1394.9 1061.4C1395.4 1063.3 1395.9 1065.2 1396.4 1067.2C1397.0 1069.1 1397.6 1071.1 1398.2 1073.0C1398.8 1074.9 1399.4 1076.9 1400.1 1078.8C1400.8 1080.8 1401.5 1082.7 1402.2 1084.7C1403.0 1086.6 1403.8 1088.6 1404.7 1090.5C1405.5 1092.4 1406.4 1094.4 1407.4 1096.3C1408.4 1098.2 1409.4 1100.1 1410.6 1101.7C1411.8 1103.2 1413.0 1104.7 1414.4 1105.7C1415.9 1106.7 1417.4 1107.4 1419.1 1107.6C1420.9 1107.8 1422.8 1107.5 1424.7 1107.0C1426.6 1106.5 1428.6 1105.6 1430.6 1104.7C1432.6 1103.8 1434.5 1102.6 1436.4 1101.5C1438.3 1100.4 1440.1 1099.1 1441.8 1097.9C1443.5 1096.7 1445.2 1095.4 1446.8 1094.1C1448.4 1092.8 1449.9 1091.4 1451.4 1090.0C1452.9 1088.7 1454.4 1087.2 1455.8 1085.8C1457.2 1084.4 1458.6 1083.0 1459.9 1081.5C1461.3 1080.1 1462.6 1078.6 1464.0 1077.1C1465.3 1075.6 1466.6 1074.2 1467.9 1072.7C1469.2 1071.2 1470.5 1069.8 1471.8 1068.3C1473.2 1066.8 1474.5 1065.4 1475.8 1064.0C1477.2 1062.5 1478.6 1061.1 1480.0 1059.7C1481.4 1058.4 1482.8 1057.0 1484.3 1055.7C1485.8 1054.3 1487.3 1053.1 1488.9 1051.8C1490.4 1050.5 1492.0 1049.3 1493.7 1048.1C1495.3 1046.9 1497.0 1045.7 1498.7 1044.5C1500.3 1043.4 1502.0 1042.2 1503.7 1041.0C1505.4 1039.9 1507.1 1038.7 1508.8 1037.6C1510.5 1036.4 1512.2 1035.2 1513.9 1034.0C1515.5 1032.8 1517.2 1031.6 1518.8 1030.4C1520.4 1029.1 1522.0 1027.9 1523.6 1026.6C1525.1 1025.3 1526.7 1024.0 1528.2 1022.7C1529.7 1021.4 1531.2 1020.1 1532.7 1018.7C1534.2 1017.4 1535.7 1016.0 1537.1 1014.7C1538.6 1013.3 1540.0 1011.9 1541.4 1010.5C1542.8 1009.1 1544.2 1007.7 1545.6 1006.2C1547.0 1004.8 1548.4 1003.4 1549.7 1001.9C1551.1 1000.4 1552.4 999.0 1553.7 997.5C1555.0 996.0 1556.3 994.5 1557.6 993.0C1558.9 991.5 1560.2 990.0 1561.5 988.4C1562.7 986.9 1564.0 985.3 1565.2 983.8C1566.5 982.2 1567.7 980.7 1568.9 979.1C1570.1 977.5 1571.3 975.9 1572.5 974.4C1573.7 972.8 1574.9 971.2 1576.1 969.6C1577.3 968.0 1578.5 966.3 1579.6 964.7C1580.8 963.1 1582.0 961.5 1583.1 959.8C1584.3 958.2 1585.4 956.6 1586.5 954.9C1587.7 953.3 1588.8 951.6 1590.0 950.0C1591.1 948.3 1592.2 946.7 1593.3 945.0C1594.5 943.4 1595.6 941.7 1596.7 940.0C1597.8 938.4 1598.9 936.7 1600.0 935.0C1601.1 933.3 1602.3 931.7 1603.4 930.0C1604.5 928.3 1605.6 926.6 1606.7 925.0C1607.8 923.3 1608.9 921.6 1610.0 919.9C1611.2 918.3 1612.3 916.6 1613.4 914.9C1614.5 913.2 1615.6 911.6 1616.7 909.9C1617.9 908.2 1619.0 906.5 1620.1 904.9C1621.3 903.2 1622.4 901.5 1623.5 899.9C1624.7 898.2 1625.8 896.6 1627.0 894.9C1628.1 893.3 1629.3 891.6 1630.5 890.0C1631.6 888.3 1632.8 886.7 1634.0 885.1C1635.2 883.4 1636.4 881.8 1637.6 880.2C1638.7 878.6 1640.0 877.0 1641.2 875.3C1642.4 873.7 1643.6 872.1 1644.8 870.5C1646.1 869.0 1647.3 867.4 1648.5 865.8C1649.8 864.2 1651.1 862.7 1652.3 861.1C1653.6 859.5 1654.9 858.0 1656.2 856.5C1657.4 854.9 1658.7 853.4 1660.1 851.9C1661.4 850.4 1662.7 848.9 1664.0 847.4C1665.4 845.9 1666.7 844.4 1668.1 842.9C1669.4 841.4 1670.8 840.0 1672.2 838.5C1673.5 837.1 1674.9 835.6 1676.3 834.2C1677.7 832.8 1679.2 831.4 1680.6 830.0C1682.0 828.6 1683.5 827.2 1684.9 825.8C1686.4 824.5 1687.9 823.1 1689.4 821.8C1690.8 820.4 1692.4 819.1 1693.9 817.8C1695.4 816.5 1696.9 815.2 1698.5 813.9C1700.0 812.7 1701.6 811.4 1703.2 810.2C1704.7 808.9 1706.3 807.7 1708.0 806.5C1709.6 805.3 1711.2 804.1 1712.8 803.0C1714.5 801.8 1716.2 800.7 1717.8 799.5C1719.5 798.4 1721.2 797.4 1722.9 796.3C1724.6 795.2 1726.3 794.2 1728.1 793.2C1729.8 792.2 1731.6 791.3 1733.4 790.3C1735.1 789.4 1736.9 788.5 1738.7 787.7C1740.5 786.8 1742.3 786.0 1744.2 785.2C1746.0 784.4 1747.9 783.7 1749.7 783.0C1751.6 782.3 1753.5 781.6 1755.4 781.0C1757.3 780.4 1759.2 779.9 1761.1 779.3C1763.1 778.8 1765.0 778.3 1767.0 777.9C1768.9 777.5 1770.9 777.1 1772.8 776.7C1774.8 776.3 1776.8 776.0 1778.8 775.7C1780.8 775.4 1782.8 775.1 1784.8 774.9C1786.8 774.6 1788.8 774.4 1790.8 774.3C1792.8 774.1 1794.9 773.9 1796.9 773.8C1798.9 773.7 1800.9 773.6 1803.0 773.5C1805.0 773.4 1807.0 773.4 1809.1 773.3C1811.1 773.3 1813.1 773.3 1815.1 773.3C1817.1 773.3 1819.2 773.3 1821.2 773.3C1823.2 773.4 1825.2 773.4 1827.2 773.5C1829.2 773.5 1831.2 773.6 1833.2 773.7C1835.2 773.8 1837.2 773.9 1839.2 774.0C1841.2 774.1 1843.2 774.2 1845.2 774.3C1847.2 774.4 1849.2 774.6 1851.2 774.7C1853.2 774.9 1855.2 775.0 1857.2 775.2C1859.1 775.3 1861.1 775.5 1863.1 775.7C1865.1 775.9 1867.1 776.0 1869.1 776.2C1871.1 776.4 1873.1 776.6 1875.0 776.8C1877.0 777.0 1879.0 777.2 1881.0 777.4C1883.0 777.6 1885.0 777.8 1887.0 778.0C1889.0 778.2 1890.9 778.4 1892.9 778.6C1894.9 778.8 1896.9 779.0 1898.9 779.2C1900.9 779.4 1902.9 779.6 1904.9 779.8C1906.9 780.0 1908.9 780.2 1910.9 780.3C1913.0 780.5 1915.0 780.7 1917.0 780.9C1919.0 781.1 1922.0 781.3 1923.0 781.4" stroke="#5a5a58" stroke-width="1.4" stroke-dasharray="1.5 2.6"/>
<path d="M176.9 202.4C177.8 202.3 180.8 202.1 182.7 202.0C184.7 201.9 186.7 201.8 188.6 201.7C190.6 201.6 192.6 201.5 194.5 201.4C196.5 201.3 198.5 201.2 200.5 201.1C202.4 201.0 204.4 200.9 206.4 200.8C208.4 200.7 210.4 200.6 212.4 200.5C214.4 200.4 216.3 200.3 218.3 200.2C220.3 200.1 222.3 200.0 224.3 200.0C226.3 199.9 228.3 199.8 230.3 199.7C232.3 199.7 234.3 199.6 236.3 199.5C238.3 199.5 240.4 199.4 242.4 199.4C244.4 199.3 246.4 199.3 248.4 199.2C250.4 199.2 252.4 199.1 254.4 199.1C256.5 199.1 258.5 199.0 260.5 199.0C262.5 199.0 264.5 199.0 266.5 198.9C268.6 198.9 270.6 198.9 272.6 198.9C274.6 198.9 276.6 198.9 278.7 198.9C280.7 198.9 282.7 198.9 284.7 199.0C286.7 199.0 288.8 199.0 290.8 199.0C292.8 199.1 294.8 199.1 296.9 199.2C298.9 199.2 300.9 199.3 302.9 199.3C305.0 199.4 307.0 199.5 309.0 199.5C311.0 199.6 313.0 199.7 315.1 199.8C317.1 199.9 319.1 200.0 321.1 200.1C323.1 200.2 325.2 200.3 327.2 200.4C329.2 200.6 331.2 200.7 333.2 200.8C335.2 201.0 337.3 201.1 339.3 201.3C341.3 201.4 343.3 201.6 345.3 201.8C347.3 202.0 349.3 202.2 351.3 202.4C353.3 202.6 355.3 202.8 357.3 203.0C359.3 203.2 361.3 203.4 363.3 203.7C365.3 203.9 367.3 204.1 369.3 204.4C371.3 204.7 373.3 204.9 375.3 205.2C377.3 205.5 379.3 205.8 381.3 206.1C383.3 206.4 385.2 206.7 387.2 207.0C389.2 207.3 391.2 207.7 393.1 208.0C395.1 208.4 397.1 208.7 399.1 209.1C401.0 209.5 403.0 209.8 405.0 210.2C406.9 210.6 408.9 211.0 410.8 211.5C412.8 211.9 414.7 212.3 416.7 212.8C418.6 213.2 420.6 213.7 422.5 214.1C424.4 214.6 426.4 215.1 428.3 215.6C430.2 216.1 432.2 216.6 434.1 217.1C436.0 217.6 437.9 218.2 439.8 218.7C441.8 219.3 443.7 219.8 445.6 220.4C447.5 221.0 449.4 221.6 451.3 222.2C453.2 222.8 455.1 223.4 457.0 224.1C458.8 224.7 460.7 225.4 462.6 226.0C464.5 226.7 466.4 227.4 468.2 228.1C470.1 228.7 472.0 229.4 473.8 230.2C475.7 230.9 477.5 231.6 479.4 232.3C481.2 233.1 483.1 233.8 484.9 234.6C486.8 235.4 488.6 236.1 490.4 236.9C492.3 237.7 494.1 238.5 495.9 239.3C497.7 240.1 499.6 241.0 501.4 241.8C503.2 242.6 505.0 243.5 506.8 244.3C508.6 245.2 510.4 246.1 512.2 246.9C514.0 247.8 515.8 248.7 517.6 249.6C519.4 250.5 521.2 251.4 523.0 252.3C524.8 253.2 526.6 254.2 528.3 255.1C530.1 256.0 531.9 257.0 533.7 257.9C535.4 258.9 537.2 259.8 539.0 260.8C540.7 261.8 542.5 262.8 544.2 263.8C546.0 264.7 547.7 265.7 549.5 266.7C551.2 267.7 553.0 268.8 554.7 269.8C556.4 270.8 558.2 271.8 559.9 272.9C561.6 273.9 563.4 274.9 565.1 276.0C566.8 277.0 568.5 278.1 570.3 279.2C572.0 280.2 573.7 281.3 575.4 282.4C577.1 283.5 578.8 284.5 580.5 285.6C582.2 286.7 583.9 287.8 585.6 288.9C587.3 290.0 589.0 291.1 590.7 292.2C592.4 293.3 594.1 294.5 595.8 295.6C597.4 296.7 599.1 297.8 600.8 299.0C602.5 300.1 604.2 301.2 605.8 302.4C607.5 303.5 609.2 304.7 610.8 305.8C612.5 307.0 614.2 308.1 615.8 309.3C617.5 310.4 619.1 311.6 620.8 312.7C622.4 313.9 624.1 315.1 625.7 316.2C627.4 317.4 629.0 318.6 630.7 319.8C632.3 320.9 633.9 322.1 635.6 323.3C637.2 324.5 638.8 325.7 640.5 326.9C642.1 328.0 643.7 329.2 645.3 330.4C647.0 331.6 648.6 332.8 650.2 334.0C651.8 335.2 653.4 336.4 655.0 337.6C656.6 338.8 658.3 340.0 659.9 341.2C661.5 342.4 663.1 343.6 664.7 344.8C666.3 346.0 667.9 347.2 669.5 348.4C671.1 349.6 672.7 350.8 674.3 352.0C675.9 353.2 677.4 354.4 679.0 355.6C680.6 356.8 682.2 358.0 683.8 359.2C685.4 360.4 687.0 361.6 688.5 362.8C690.1 364.1 691.7 365.3 693.3 366.5C694.9 367.7 696.5 368.9 698.0 370.1C699.6 371.4 701.2 372.6 702.8 373.8C704.3 375.0 705.9 376.2 707.5 377.5C709.1 378.7 710.6 379.9 712.2 381.1C713.8 382.4 715.3 383.6 716.9 384.8C718.5 386.0 720.0 387.3 721.6 388.5C723.2 389.7 724.8 391.0 726.3 392.2C727.9 393.4 729.5 394.7 731.0 395.9C732.6 397.1 734.2 398.4 735.7 399.6C737.3 400.8 738.9 402.1 740.4 403.3C742.0 404.5 743.6 405.8 745.1 407.0C746.7 408.3 748.3 409.5 749.9 410.8C751.4 412.0 753.0 413.3 754.6 414.5C756.1 415.7 757.7 417.0 759.3 418.2C760.9 419.5 762.4 420.7 764.0 422.0C765.6 423.3 767.1 424.5 768.7 425.8C770.3 427.0 771.9 428.3 773.4 429.5C775.0 430.8 776.6 432.1 778.1 433.3C779.7 434.6 781.3 435.9 782.8 437.1C784.4 438.4 786.0 439.7 787.5 441.0C789.1 442.2 790.7 443.5 792.2 444.8C793.8 446.1 795.3 447.4 796.9 448.6C798.4 449.9 800.0 451.2 801.5 452.5C803.1 453.8 804.6 455.1 806.2 456.4C807.7 457.7 809.3 459.0 810.8 460.3C812.3 461.6 813.9 462.9 815.4 464.3C816.9 465.6 818.4 466.9 820.0 468.2C821.5 469.5 823.0 470.9 824.5 472.2C826.0 473.5 827.5 474.9 829.0 476.2C830.5 477.6 832.0 478.9 833.5 480.3C835.0 481.6 836.5 483.0 838.0 484.3C839.5 485.7 840.9 487.1 842.4 488.4C843.9 489.8 845.4 491.2 846.8 492.6C848.3 494.0 849.7 495.3 851.2 496.7C852.6 498.1 854.0 499.5 855.5 500.9C856.9 502.3 858.3 503.8 859.7 505.2C861.2 506.6 862.6 508.0 864.0 509.5C865.4 510.9 866.8 512.3 868.2 513.8C869.6 515.2 870.9 516.6 872.3 518.1C873.7 519.5 875.1 521.0 876.4 522.5C877.8 523.9 879.2 525.4 880.5 526.9C881.9 528.3 883.2 529.8 884.6 531.3C885.9 532.8 887.3 534.3 888.6 535.7C890.0 537.2 891.3 538.7 892.6 540.2C893.9 541.7 895.3 543.2 896.6 544.7C897.9 546.2 899.2 547.7 900.5 549.2C901.8 550.8 903.2 552.3 904.5 553.8C905.8 555.3 907.1 556.8 908.4 558.3C909.7 559.9 911.0 561.4 912.3 562.9C913.5 564.4 914.8 566.0 916.1 567.5C917.4 569.0 918.7 570.6 920.0 572.1C921.3 573.6 922.5 575.2 923.8 576.7C925.1 578.3 926.4 579.8 927.7 581.4C928.9 582.9 930.2 584.4 931.5 586.0C932.8 587.5 934.0 589.1 935.3 590.6C936.6 592.2 937.8 593.7 939.1 595.3C940.4 596.8 941.6 598.4 942.9 599.9C944.2 601.5 945.5 603.0 946.7 604.6C948.0 606.1 949.3 607.7 950.5 609.2C951.8 610.8 953.1 612.3 954.3 613.9C955.6 615.4 956.9 617.0 958.2 618.6C959.4 620.1 960.7 621.7 962.0 623.2C963.3 624.8 964.5 626.3 965.8 627.8C967.1 629.4 968.4 630.9 969.7 632.5C970.9 634.0 972.2 635.6 973.5 637.1C974.8 638.7 976.1 640.2 977.4 641.7C978.7 643.3 980.0 644.8 981.3 646.4C982.6 647.9 983.9 649.4 985.2 651.0C986.5 652.5 987.8 654.0 989.1 655.5C990.4 657.1 991.7 658.6 993.0 660.1C994.3 661.6 995.7 663.1 997.0 664.7C998.3 666.2 999.6 667.7 1001.0 669.2C1002.3 670.7 1003.6 672.2 1005.0 673.7C1006.3 675.2 1007.7 676.7 1009.0 678.2C1010.4 679.7 1011.8 681.1 1013.1 682.6C1014.5 684.1 1015.9 685.6 1017.3 687.0C1018.7 688.5 1020.0 689.9 1021.4 691.4C1022.8 692.8 1024.3 694.3 1025.7 695.7C1027.1 697.1 1028.5 698.5 1030.0 699.9C1031.4 701.2 1032.9 702.6 1034.5 703.8C1036.1 704.9 1037.7 706.0 1039.4 706.9C1041.1 707.9 1042.9 708.7 1044.8 709.4C1046.6 710.1 1048.5 710.7 1050.5 711.2C1052.4 711.7 1054.4 712.1 1056.4 712.5C1058.4 712.8 1060.4 713.1 1062.5 713.5C1064.5 713.8 1066.5 714.1 1068.6 714.4C1070.6 714.8 1072.6 715.1 1074.6 715.6C1076.6 716.0 1078.5 716.5 1080.5 717.1C1082.4 717.7 1084.3 718.3 1086.2 719.0C1088.0 719.7 1089.9 720.5 1091.7 721.3C1093.5 722.1 1095.3 723.0 1097.1 723.8C1098.9 724.7 1100.7 725.6 1102.5 726.5C1104.3 727.5 1106.0 728.4 1107.8 729.3C1109.6 730.2 1111.4 731.2 1113.2 732.1C1115.0 733.0 1116.7 733.9 1118.6 734.8C1120.4 735.6 1122.2 736.5 1124.0 737.2C1125.9 738.0 1127.8 738.8 1129.7 739.5C1131.6 740.2 1133.5 740.8 1135.4 741.4C1137.4 741.9 1139.4 742.5 1141.3 743.0C1143.3 743.5 1145.3 744.0 1147.3 744.5C1149.2 745.0 1151.2 745.5 1153.2 746.0C1155.2 746.6 1157.1 747.1 1159.0 747.7C1161.0 748.3 1162.9 748.9 1164.8 749.6C1166.6 750.3 1168.5 751.0 1170.3 751.9C1172.1 752.7 1173.8 753.6 1175.5 754.6C1177.2 755.6 1178.9 756.7 1180.5 757.9C1182.1 759.1 1183.6 760.3 1185.2 761.6C1186.7 762.9 1188.2 764.3 1189.7 765.7C1191.1 767.0 1192.5 768.5 1194.0 769.9C1195.4 771.4 1196.7 772.8 1198.1 774.3C1199.4 775.8 1200.8 777.3 1202.1 778.8C1203.4 780.4 1204.7 781.9 1206.0 783.5C1207.2 785.0 1208.5 786.6 1209.7 788.2C1211.0 789.8 1212.2 791.3 1213.4 793.0C1214.6 794.6 1215.8 796.2 1217.0 797.8C1218.2 799.4 1219.3 801.1 1220.5 802.7C1221.7 804.3 1222.8 806.0 1224.0 807.6C1225.1 809.3 1226.2 810.9 1227.4 812.6C1228.5 814.2 1229.7 815.9 1230.8 817.6C1231.9 819.2 1233.1 820.9 1234.2 822.5C1235.3 824.2 1236.5 825.9 1237.6 827.5C1238.7 829.2 1239.9 830.8 1241.0 832.5C1242.2 834.1 1243.3 835.8 1244.5 837.4C1245.6 839.1 1246.8 840.7 1247.9 842.4C1249.1 844.0 1250.2 845.6 1251.4 847.3C1252.5 848.9 1253.7 850.6 1254.9 852.2C1256.0 853.8 1257.2 855.5 1258.3 857.1C1259.5 858.8 1260.6 860.4 1261.8 862.0C1262.9 863.7 1264.1 865.3 1265.2 867.0C1266.4 868.6 1267.5 870.3 1268.6 871.9C1269.8 873.6 1270.9 875.2 1272.0 876.9C1273.2 878.5 1274.3 880.2 1275.4 881.9C1276.5 883.5 1277.7 885.2 1278.8 886.9C1279.9 888.5 1281.0 890.2 1282.1 891.9C1283.2 893.6 1284.3 895.3 1285.3 897.0C1286.4 898.6 1287.5 900.3 1288.6 902.0C1289.6 903.7 1290.7 905.5 1291.7 907.2C1292.8 908.9 1293.8 910.6 1294.9 912.3C1295.9 914.1 1296.9 915.8 1297.9 917.6C1298.9 919.3 1299.9 921.1 1300.9 922.8C1301.9 924.6 1302.9 926.4 1303.9 928.1C1304.9 929.9 1305.8 931.7 1306.9 933.4C1308.0 935.0 1309.1 936.7 1310.3 938.3C1311.5 939.8 1312.7 941.3 1314.1 942.8C1315.5 944.2 1316.9 945.5 1318.4 946.8C1319.9 948.1 1321.5 949.3 1323.1 950.5C1324.6 951.7 1326.3 952.9 1327.9 954.0C1329.5 955.2 1331.2 956.3 1332.9 957.4C1334.6 958.4 1336.3 959.5 1338.1 960.5C1339.8 961.6 1341.5 962.6 1343.3 963.7C1345.0 964.7 1346.8 965.7 1348.5 966.7C1350.3 967.8 1352.0 968.8 1353.8 969.8C1355.5 970.9 1357.2 971.9 1359.0 973.0C1360.7 974.1 1362.4 975.1 1364.0 976.3C1365.7 977.4 1367.4 978.5 1369.0 979.7C1370.6 980.9 1372.2 982.1 1373.7 983.3C1375.3 984.6 1376.8 985.9 1378.3 987.2C1379.8 988.5 1381.3 989.8 1382.7 991.2C1384.2 992.6 1385.6 994.0 1387.0 995.4C1388.4 996.8 1389.8 998.3 1391.2 999.7C1392.5 1001.2 1393.9 1002.7 1395.2 1004.2C1396.5 1005.7 1397.8 1007.2 1399.1 1008.7C1400.4 1010.2 1401.7 1011.8 1403.0 1013.3C1404.3 1014.9 1405.5 1016.5 1406.8 1018.0C1408.1 1019.6 1409.3 1021.2 1410.6 1022.8C1411.8 1024.4 1413.1 1026.0 1414.3 1027.6C1415.5 1029.2 1416.8 1030.8 1418.0 1032.4C1419.3 1033.9 1420.5 1035.5 1421.7 1037.1C1423.0 1038.7 1424.2 1040.3 1425.5 1041.9C1426.7 1043.5 1428.0 1045.0 1429.3 1046.6C1430.5 1048.2 1431.8 1049.7 1433.0 1051.3C1434.3 1052.8 1435.6 1054.4 1436.9 1056.0C1438.1 1057.5 1439.4 1059.1 1440.7 1060.6C1442.0 1062.1 1443.2 1063.7 1444.5 1065.2C1445.8 1066.8 1447.1 1068.3 1448.3 1069.9C1449.6 1071.4 1450.9 1072.9 1452.2 1074.5C1453.4 1076.0 1454.7 1077.6 1456.0 1079.1C1457.2 1080.7 1458.5 1082.2 1459.8 1083.7C1461.1 1085.3 1462.3 1086.8 1463.6 1088.4C1464.8 1089.9 1466.1 1091.5 1467.4 1093.0C1468.6 1094.6 1469.9 1096.1 1471.2 1097.7C1472.4 1099.2 1473.7 1100.8 1474.9 1102.3C1476.2 1103.9 1477.5 1105.4 1478.7 1107.0C1480.0 1108.5 1481.3 1110.1 1482.5 1111.6C1483.8 1113.2 1485.1 1114.7 1486.4 1116.3C1487.7 1117.8 1488.9 1119.3 1490.2 1120.9C1491.5 1122.4 1492.8 1123.9 1494.1 1125.5C1495.4 1127.0 1496.7 1128.5 1498.0 1130.0C1499.3 1131.6 1500.7 1133.1 1502.0 1134.6C1503.3 1136.1 1504.6 1137.6 1506.0 1139.1C1507.3 1140.6 1508.7 1142.1 1510.0 1143.6C1511.4 1145.1 1512.7 1146.6 1514.1 1148.0C1515.5 1149.5 1516.9 1151.0 1518.2 1152.5C1519.6 1153.9 1521.0 1155.4 1522.4 1156.8C1523.8 1158.3 1525.2 1159.7 1526.6 1161.1C1528.0 1162.6 1529.5 1164.0 1530.9 1165.4C1532.3 1166.8 1533.8 1168.3 1535.2 1169.7C1536.7 1171.1 1538.1 1172.4 1539.6 1173.8C1541.0 1175.2 1542.5 1176.6 1544.0 1177.9C1545.5 1179.3 1547.0 1180.7 1548.5 1182.0C1550.0 1183.3 1551.5 1184.7 1553.0 1186.0C1554.5 1187.3 1556.0 1188.6 1557.6 1189.9C1559.1 1191.2 1560.6 1192.5 1562.2 1193.8C1563.7 1195.0 1565.3 1196.3 1566.9 1197.6C1568.4 1198.8 1570.0 1200.0 1571.6 1201.3C1573.2 1202.5 1574.8 1203.7 1576.4 1204.9C1578.0 1206.1 1579.7 1207.3 1581.3 1208.4C1582.9 1209.6 1584.6 1210.7 1586.2 1211.9C1587.9 1213.0 1589.5 1214.1 1591.2 1215.2C1592.9 1216.4 1594.6 1217.4 1596.3 1218.5C1597.9 1219.6 1599.6 1220.7 1601.4 1221.7C1603.1 1222.7 1604.8 1223.8 1606.5 1224.8C1608.3 1225.8 1610.0 1226.8 1611.8 1227.8C1613.5 1228.7 1615.3 1229.7 1617.0 1230.6C1618.8 1231.6 1620.6 1232.5 1622.4 1233.4C1624.2 1234.3 1626.0 1235.2 1627.8 1236.1C1629.6 1236.9 1631.4 1237.8 1633.2 1238.6C1635.0 1239.4 1636.9 1240.2 1638.7 1241.0C1640.5 1241.8 1642.4 1242.6 1644.2 1243.3C1646.1 1244.1 1648.0 1244.8 1649.8 1245.5C1651.7 1246.2 1653.6 1246.9 1655.5 1247.6C1657.3 1248.3 1659.2 1248.9 1661.1 1249.5C1663.0 1250.2 1664.9 1250.8 1666.9 1251.3C1668.8 1251.9 1670.7 1252.5 1672.6 1253.0C1674.5 1253.6 1676.5 1254.1 1678.4 1254.6C1680.3 1255.1 1682.3 1255.6 1684.2 1256.0C1686.2 1256.5 1688.1 1257.0 1690.1 1257.4C1692.1 1257.8 1694.0 1258.3 1696.0 1258.7C1698.0 1259.1 1699.9 1259.5 1701.9 1259.8C1703.9 1260.2 1705.9 1260.6 1707.8 1260.9C1709.8 1261.3 1711.8 1261.7 1713.8 1262.0C1715.8 1262.3 1717.8 1262.6 1719.8 1263.0C1721.8 1263.3 1723.8 1263.6 1725.8 1263.9C1727.8 1264.2 1729.8 1264.5 1731.8 1264.8C1733.8 1265.1 1735.8 1265.3 1737.8 1265.6C1739.8 1265.9 1741.8 1266.2 1743.8 1266.5C1745.8 1266.7 1747.8 1267.0 1749.8 1267.3C1751.8 1267.5 1753.8 1267.8 1755.8 1268.1C1757.8 1268.3 1759.8 1268.6 1761.8 1268.9C1763.8 1269.1 1765.8 1269.4 1767.8 1269.7C1769.8 1270.0 1771.8 1270.2 1773.8 1270.5C1775.7 1270.8 1777.7 1271.1 1779.7 1271.3C1781.7 1271.6 1783.7 1271.9 1785.7 1272.2C1787.7 1272.5 1789.7 1272.8 1791.7 1273.0C1793.6 1273.3 1795.6 1273.6 1797.6 1273.9C1799.6 1274.2 1801.6 1274.5 1803.6 1274.8C1805.5 1275.1 1807.5 1275.3 1809.5 1275.6C1811.5 1275.9 1813.5 1276.2 1815.4 1276.5C1817.4 1276.8 1819.4 1277.1 1821.4 1277.3C1823.4 1277.6 1825.3 1277.9 1827.3 1278.2C1829.3 1278.5 1831.3 1278.8 1833.3 1279.0C1835.2 1279.3 1837.2 1279.6 1839.2 1279.9C1841.2 1280.1 1843.2 1280.4 1845.1 1280.7C1847.1 1281.0 1849.1 1281.2 1851.1 1281.5C1853.1 1281.8 1855.0 1282.0 1857.0 1282.3C1859.0 1282.5 1861.0 1282.8 1863.0 1283.0C1865.0 1283.3 1867.0 1283.5 1868.9 1283.8C1870.9 1284.0 1872.9 1284.2 1874.9 1284.5C1876.9 1284.7 1878.9 1284.9 1880.9 1285.2C1882.9 1285.4 1884.9 1285.6 1886.9 1285.8C1888.9 1286.0 1890.9 1286.2 1892.9 1286.4C1894.9 1286.6 1896.9 1286.8 1898.9 1287.0C1900.9 1287.2 1902.9 1287.4 1904.9 1287.5C1906.9 1287.7 1908.9 1287.9 1910.9 1288.0C1913.0 1288.2 1915.0 1288.3 1917.0 1288.5C1919.0 1288.6 1922.1 1288.8 1923.1 1288.9" stroke="#2b2b29" stroke-width="1.55"/>
<path d="M177.9 1228.3C178.5 1229.0 180.2 1231.1 181.7 1232.5C183.2 1234.0 184.9 1235.9 186.7 1236.9C188.4 1238.0 190.3 1238.9 192.2 1238.9C194.0 1239.0 195.9 1238.0 197.7 1237.3C199.5 1236.5 201.2 1235.2 203.0 1234.2C204.8 1233.2 206.5 1232.1 208.3 1231.2C210.1 1230.4 212.0 1229.6 213.9 1229.3C215.8 1228.9 218.0 1228.8 220.0 1229.2C222.0 1229.6 224.0 1230.6 225.6 1231.7C227.2 1232.9 228.2 1234.9 229.6 1236.2C230.9 1237.6 232.2 1238.9 233.9 1239.9C235.6 1240.8 237.7 1241.1 239.7 1241.7C241.6 1242.3 243.7 1242.7 245.6 1243.4C247.6 1244.1 249.4 1244.8 251.1 1245.8C252.8 1246.8 254.3 1248.0 255.8 1249.3C257.3 1250.5 258.6 1252.0 259.9 1253.5C261.3 1255.0 262.5 1256.6 263.7 1258.3C265.0 1259.9 266.1 1261.7 267.4 1263.4C268.6 1265.0 269.8 1266.8 271.1 1268.4C272.4 1269.9 273.8 1271.5 275.3 1272.7C276.8 1273.9 278.4 1275.0 280.1 1275.7C281.9 1276.4 283.9 1276.6 285.9 1276.9C287.9 1277.1 290.0 1276.9 292.1 1277.1C294.1 1277.3 296.2 1277.4 298.1 1278.0C300.0 1278.5 301.8 1279.4 303.5 1280.4C305.3 1281.5 306.7 1283.2 308.4 1284.4C310.0 1285.6 311.6 1287.0 313.5 1287.5C315.3 1288.0 317.3 1287.7 319.3 1287.6C321.2 1287.5 323.3 1286.6 325.2 1287.0C327.0 1287.4 328.7 1289.0 330.4 1290.1C332.1 1291.2 333.7 1293.5 335.3 1293.8C336.8 1294.1 338.4 1293.1 339.7 1291.9C341.0 1290.7 342.1 1288.3 343.2 1286.5C344.4 1284.7 345.2 1282.8 346.4 1281.1C347.6 1279.5 348.9 1278.0 350.4 1276.7C351.9 1275.4 353.7 1274.3 355.4 1273.4C357.2 1272.4 359.1 1271.7 361.0 1271.0C362.9 1270.4 364.9 1270.0 366.9 1269.5C368.8 1269.1 370.8 1268.8 372.8 1268.4C374.7 1268.0 376.7 1267.6 378.5 1267.0C380.4 1266.5 382.3 1265.8 384.1 1265.1C386.0 1264.3 387.7 1263.5 389.5 1262.6C391.3 1261.7 393.1 1260.7 394.8 1259.7C396.6 1258.8 398.3 1257.7 400.1 1256.7C401.8 1255.6 403.5 1254.6 405.3 1253.5C407.0 1252.5 408.8 1251.5 410.5 1250.5C412.3 1249.5 414.1 1248.5 415.9 1247.6C417.6 1246.7 419.5 1245.9 421.3 1245.0C423.1 1244.2 424.9 1243.4 426.8 1242.6C428.6 1241.8 430.5 1241.1 432.3 1240.3C434.2 1239.6 436.0 1238.9 437.9 1238.1C439.8 1237.4 441.6 1236.7 443.5 1235.9C445.3 1235.2 447.2 1234.4 449.0 1233.6C450.9 1232.8 452.7 1232.1 454.6 1231.2C456.4 1230.4 458.2 1229.5 460.0 1228.6C461.8 1227.7 463.6 1226.8 465.4 1225.8C467.2 1224.9 468.9 1223.9 470.7 1222.9C472.5 1222.0 474.3 1221.0 476.1 1220.2C477.9 1219.3 479.8 1218.5 481.6 1217.8C483.5 1217.2 485.4 1216.6 487.4 1216.2C489.4 1215.7 491.4 1215.5 493.4 1215.2C495.5 1215.0 497.5 1214.8 499.5 1214.6C501.5 1214.3 503.6 1214.1 505.5 1213.6C507.4 1213.1 509.3 1212.6 511.0 1211.8C512.8 1211.0 514.5 1209.9 516.1 1208.7C517.7 1207.6 519.3 1206.2 520.9 1205.0C522.5 1203.7 524.1 1202.4 525.7 1201.3C527.4 1200.1 529.1 1199.1 530.9 1198.1C532.7 1197.1 534.5 1196.3 536.3 1195.5C538.2 1194.7 540.1 1194.0 542.0 1193.4C543.9 1192.7 545.8 1192.1 547.7 1191.5C549.6 1190.9 551.6 1190.3 553.5 1189.7C555.4 1189.1 557.3 1188.5 559.2 1187.9C561.1 1187.3 563.0 1186.7 564.9 1186.1C566.8 1185.4 568.6 1184.7 570.5 1184.0C572.4 1183.2 574.2 1182.4 576.1 1181.6C577.9 1180.7 579.8 1179.8 581.6 1178.9C583.4 1178.1 585.3 1177.2 587.1 1176.4C589.0 1175.7 590.9 1174.9 592.7 1174.4C594.6 1173.8 596.5 1173.3 598.5 1173.0C600.4 1172.7 602.4 1172.6 604.4 1172.7C606.4 1172.8 608.4 1173.1 610.4 1173.5C612.5 1173.9 614.5 1174.4 616.4 1175.0C618.4 1175.5 620.3 1176.2 622.2 1176.8C624.0 1177.4 625.8 1178.1 627.7 1178.8C629.6 1179.5 631.5 1180.4 633.5 1181.1C635.4 1181.8 637.5 1182.9 639.4 1183.2C641.4 1183.5 643.3 1183.5 645.1 1182.9C646.8 1182.2 648.3 1180.6 649.8 1179.1C651.2 1177.7 652.4 1175.9 653.7 1174.3C655.1 1172.8 656.3 1171.1 657.8 1169.9C659.3 1168.7 661.0 1167.9 662.8 1167.2C664.6 1166.5 666.7 1166.2 668.7 1165.9C670.7 1165.5 672.8 1165.3 674.8 1165.1C676.8 1164.8 678.9 1164.6 680.9 1164.4C683.0 1164.1 685.0 1163.9 687.0 1163.7C689.0 1163.5 691.0 1163.4 693.1 1163.2C695.1 1163.0 697.1 1162.9 699.1 1162.8C701.1 1162.7 703.1 1162.6 705.1 1162.5C707.1 1162.5 709.0 1162.4 711.0 1162.4C713.0 1162.4 715.0 1162.4 717.0 1162.5C718.9 1162.5 720.9 1162.6 722.9 1162.7C724.8 1162.8 726.8 1163.0 728.7 1163.1C730.7 1163.2 732.7 1163.4 734.7 1163.5C736.6 1163.6 738.6 1163.7 740.6 1163.8C742.6 1163.9 744.7 1164.0 746.7 1164.0C748.7 1164.0 750.8 1164.0 752.8 1164.0C754.8 1164.0 756.9 1163.9 758.9 1163.8C761.0 1163.7 763.0 1163.6 765.1 1163.4C767.1 1163.2 769.1 1163.0 771.2 1162.7C773.2 1162.4 775.2 1162.1 777.2 1161.8C779.2 1161.4 781.2 1161.0 783.2 1160.6C785.1 1160.1 787.1 1159.6 789.0 1159.0C790.9 1158.5 792.8 1157.9 794.7 1157.2C796.6 1156.5 798.4 1155.8 800.2 1155.0C802.0 1154.2 803.8 1153.3 805.6 1152.4C807.3 1151.5 809.0 1150.5 810.7 1149.5C812.3 1148.4 814.0 1147.3 815.6 1146.2C817.2 1145.0 818.7 1143.8 820.3 1142.6C821.8 1141.3 823.3 1140.0 824.8 1138.7C826.3 1137.4 827.8 1136.0 829.2 1134.6C830.7 1133.2 832.1 1131.8 833.5 1130.3C834.9 1128.9 836.3 1127.4 837.7 1125.9C839.1 1124.4 840.4 1122.8 841.8 1121.3C843.1 1119.8 844.4 1118.2 845.8 1116.6C847.1 1115.1 848.4 1113.5 849.7 1111.9C851.0 1110.4 852.3 1108.8 853.6 1107.2C854.9 1105.7 856.2 1104.1 857.5 1102.5C858.8 1101.0 860.1 1099.4 861.4 1097.9C862.7 1096.4 864.0 1094.8 865.3 1093.3C866.6 1091.7 867.9 1090.2 869.1 1088.7C870.4 1087.1 871.6 1085.6 872.9 1084.0C874.1 1082.5 875.4 1080.9 876.6 1079.4C877.8 1077.8 879.0 1076.2 880.2 1074.7C881.4 1073.1 882.5 1071.5 883.7 1069.9C884.8 1068.3 886.0 1066.7 887.1 1065.1C888.2 1063.4 889.3 1061.8 890.3 1060.1C891.4 1058.4 892.4 1056.8 893.4 1055.1C894.4 1053.4 895.4 1051.6 896.4 1049.9C897.4 1048.2 898.3 1046.4 899.3 1044.7C900.2 1042.9 901.1 1041.1 902.0 1039.4C902.9 1037.6 903.8 1035.8 904.7 1034.0C905.6 1032.2 906.5 1030.4 907.3 1028.6C908.2 1026.7 909.1 1024.9 909.9 1023.1C910.8 1021.3 911.6 1019.4 912.5 1017.6C913.3 1015.8 914.2 1013.9 915.0 1012.1C915.8 1010.2 916.7 1008.4 917.5 1006.6C918.4 1004.7 919.2 1002.9 920.1 1001.1C920.9 999.2 921.8 997.4 922.7 995.6C923.5 993.8 924.4 991.9 925.3 990.1C926.2 988.3 927.1 986.5 928.0 984.7C928.9 982.9 929.9 981.2 930.8 979.4C931.7 977.6 932.7 975.8 933.6 974.1C934.6 972.3 935.6 970.5 936.5 968.8C937.5 967.0 938.5 965.3 939.5 963.6C940.4 961.8 941.4 960.1 942.4 958.3C943.4 956.6 944.4 954.9 945.4 953.1C946.4 951.4 947.4 949.7 948.4 947.9C949.4 946.2 950.4 944.5 951.4 942.7C952.4 941.0 953.4 939.3 954.4 937.5C955.4 935.8 956.4 934.1 957.4 932.3C958.3 930.6 959.3 928.9 960.3 927.1C961.3 925.4 962.2 923.6 963.2 921.9C964.1 920.1 965.1 918.3 966.0 916.6C967.0 914.8 967.9 913.0 968.8 911.2C969.7 909.5 970.6 907.7 971.5 905.9C972.4 904.1 973.3 902.3 974.2 900.5C975.1 898.7 975.9 896.9 976.8 895.1C977.7 893.2 978.6 891.4 979.5 889.6C980.3 887.8 981.2 886.0 982.1 884.2C983.0 882.4 983.9 880.6 984.8 878.8C985.7 877.0 986.7 875.3 987.6 873.5C988.6 871.7 989.5 870.0 990.5 868.2C991.5 866.5 992.5 864.7 993.5 863.0C994.6 861.3 995.6 859.6 996.7 857.9C997.8 856.2 998.9 854.5 1000.1 852.9C1001.2 851.2 1002.4 849.6 1003.6 848.0C1004.9 846.4 1006.1 844.8 1007.5 843.3C1008.8 841.8 1010.2 840.4 1011.7 839.1C1013.2 837.7 1014.8 836.5 1016.4 835.4C1018.1 834.3 1019.9 833.3 1021.8 832.5C1023.6 831.7 1025.7 830.9 1027.6 830.7C1029.6 830.4 1031.6 830.5 1033.5 830.9C1035.4 831.4 1037.2 832.4 1039.0 833.4C1040.7 834.4 1042.4 835.7 1044.0 836.9C1045.6 838.2 1047.2 839.5 1048.6 840.9C1050.1 842.3 1051.5 843.7 1052.9 845.2C1054.3 846.7 1055.6 848.2 1056.9 849.7C1058.2 851.2 1059.5 852.8 1060.7 854.4C1062.0 855.9 1063.2 857.5 1064.4 859.1C1065.7 860.7 1066.9 862.3 1068.1 864.0C1069.3 865.6 1070.5 867.2 1071.6 868.8C1072.8 870.5 1073.9 872.1 1075.1 873.8C1076.2 875.4 1077.3 877.1 1078.4 878.8C1079.5 880.5 1080.6 882.2 1081.6 883.9C1082.7 885.6 1083.7 887.3 1084.7 889.0C1085.7 890.8 1086.6 892.5 1087.5 894.3C1088.5 896.1 1089.4 897.8 1090.2 899.6C1091.1 901.4 1091.9 903.2 1092.6 905.1C1093.4 906.9 1094.2 908.8 1094.8 910.6C1095.5 912.5 1096.2 914.4 1096.8 916.3C1097.4 918.2 1097.9 920.1 1098.4 922.1C1099.0 924.0 1099.4 926.0 1099.9 927.9C1100.4 929.9 1100.8 931.9 1101.2 933.9C1101.6 935.8 1102.0 937.8 1102.5 939.8C1102.9 941.8 1103.3 943.8 1103.7 945.7C1104.1 947.7 1104.5 949.7 1105.0 951.6C1105.5 953.6 1105.9 955.5 1106.4 957.4C1107.0 959.4 1107.5 961.3 1108.1 963.2C1108.7 965.0 1109.3 966.9 1110.0 968.7C1110.8 970.6 1111.5 972.4 1112.4 974.3C1113.2 976.1 1114.1 978.1 1115.2 979.8C1116.3 981.6 1117.5 983.5 1119.0 984.7C1120.5 985.9 1122.4 986.7 1124.2 986.8C1126.0 986.9 1128.1 986.3 1129.9 985.5C1131.7 984.7 1133.3 983.3 1134.9 981.9C1136.4 980.5 1137.8 978.9 1139.2 977.3C1140.6 975.8 1142.0 974.2 1143.3 972.7C1144.7 971.2 1146.0 969.7 1147.3 968.3C1148.7 966.9 1150.0 965.4 1151.4 964.1C1152.8 962.8 1154.2 961.5 1155.7 960.3C1157.3 959.0 1158.8 957.9 1160.5 956.8C1162.1 955.7 1163.9 954.7 1165.7 953.9C1167.6 953.0 1169.6 952.2 1171.6 951.5C1173.7 950.9 1175.8 950.4 1177.8 950.1C1179.9 949.8 1182.0 949.6 1184.0 949.8C1185.9 949.9 1187.9 950.3 1189.7 951.0C1191.4 951.7 1193.1 952.7 1194.6 953.8C1196.1 955.0 1197.5 956.4 1198.9 957.9C1200.3 959.3 1201.6 960.9 1202.9 962.5C1204.2 964.0 1205.5 965.6 1206.7 967.1C1208.0 968.7 1209.3 970.2 1210.6 971.8C1211.9 973.3 1213.1 974.8 1214.4 976.4C1215.7 977.9 1217.0 979.4 1218.3 980.9C1219.6 982.4 1220.9 984.0 1222.2 985.4C1223.5 986.9 1224.9 988.4 1226.2 989.9C1227.6 991.4 1229.0 992.8 1230.4 994.3C1231.8 995.7 1233.3 997.1 1234.8 998.4C1236.3 999.8 1237.8 1001.1 1239.4 1002.3C1241.0 1003.5 1242.7 1004.7 1244.4 1005.7C1246.1 1006.7 1247.9 1007.7 1249.8 1008.5C1251.7 1009.3 1253.6 1010.1 1255.5 1010.6C1257.4 1011.1 1259.4 1011.5 1261.4 1011.7C1263.3 1011.8 1265.3 1011.8 1267.2 1011.5C1269.1 1011.2 1271.0 1010.7 1272.8 1009.9C1274.6 1009.2 1276.3 1008.1 1278.0 1007.0C1279.6 1005.8 1281.2 1004.4 1282.7 1002.9C1284.1 1001.4 1285.5 999.8 1286.7 998.2C1288.0 996.5 1289.1 994.8 1290.2 993.0C1291.2 991.3 1292.1 989.5 1293.0 987.7C1293.8 985.9 1294.5 984.1 1295.2 982.2C1295.9 980.3 1296.5 978.4 1297.1 976.5C1297.7 974.6 1298.2 972.7 1298.8 970.8C1299.3 968.9 1299.8 966.9 1300.2 965.0C1300.7 963.0 1301.2 961.1 1301.7 959.1C1302.2 957.2 1302.7 955.3 1303.2 953.3C1303.6 951.4 1304.1 949.4 1304.6 947.5C1305.1 945.5 1305.6 943.6 1306.1 941.6C1306.6 939.7 1307.1 937.7 1307.6 935.8C1308.0 933.9 1308.5 931.9 1309.0 930.0C1309.5 928.0 1310.0 926.1 1310.5 924.1C1311.0 922.2 1311.5 920.2 1311.9 918.3C1312.4 916.3 1312.9 914.4 1313.4 912.4C1313.9 910.5 1314.3 908.5 1314.8 906.6C1315.3 904.6 1315.8 902.7 1316.2 900.7C1316.7 898.8 1317.2 896.8 1317.6 894.9C1318.1 892.9 1318.5 890.9 1319.0 889.0C1319.4 887.0 1319.9 885.1 1320.3 883.1C1320.8 881.2 1321.2 879.2 1321.6 877.2C1322.1 875.3 1322.5 873.3 1322.9 871.4C1323.4 869.4 1323.8 867.4 1324.2 865.5C1324.6 863.5 1325.0 861.6 1325.4 859.6C1325.8 857.6 1326.3 855.7 1326.7 853.7C1327.1 851.7 1327.5 849.8 1327.8 847.8C1328.2 845.8 1328.6 843.9 1329.0 841.9C1329.4 839.9 1329.8 838.0 1330.2 836.0C1330.5 834.0 1330.9 832.1 1331.3 830.1C1331.7 828.1 1332.0 826.1 1332.4 824.2C1332.8 822.2 1333.1 820.2 1333.5 818.3C1333.8 816.3 1334.2 814.3 1334.5 812.3C1334.9 810.4 1335.2 808.4 1335.6 806.4C1335.9 804.4 1336.3 802.5 1336.6 800.5C1337.0 798.5 1337.3 796.5 1337.6 794.6C1338.0 792.6 1338.3 790.6 1338.6 788.6C1339.0 786.6 1339.3 784.7 1339.6 782.7C1339.9 780.7 1340.2 778.7 1340.6 776.8C1340.9 774.8 1341.2 772.8 1341.5 770.8C1341.8 768.8 1342.1 766.8 1342.4 764.9C1342.8 762.9 1343.1 760.9 1343.4 758.9C1343.7 756.9 1344.0 755.0 1344.3 753.0C1344.6 751.0 1344.9 749.0 1345.2 747.0C1345.5 745.0 1345.8 743.1 1346.1 741.1C1346.3 739.1 1346.6 737.1 1346.9 735.1C1347.2 733.1 1347.5 731.1 1347.8 729.2C1348.1 727.2 1348.4 725.2 1348.6 723.2C1348.9 721.2 1349.2 719.2 1349.5 717.2C1349.8 715.3 1350.0 713.3 1350.3 711.3C1350.6 709.3 1350.9 707.3 1351.1 705.3C1351.4 703.3 1351.7 701.3 1351.9 699.4C1352.2 697.4 1352.5 695.4 1352.8 693.4C1353.0 691.4 1353.3 689.4 1353.6 687.4C1353.8 685.4 1354.1 683.5 1354.4 681.5C1354.6 679.5 1354.9 677.5 1355.2 675.5C1355.4 673.5 1355.7 671.5 1355.9 669.5C1356.2 667.5 1356.5 665.6 1356.7 663.6C1357.0 661.6 1357.3 659.6 1357.5 657.6C1357.8 655.6 1358.0 653.6 1358.3 651.6C1358.5 649.6 1358.8 647.7 1359.1 645.7C1359.3 643.7 1359.6 641.7 1359.8 639.7C1360.1 637.7 1360.4 635.7 1360.6 633.7C1360.9 631.7 1361.1 629.7 1361.4 627.8C1361.7 625.8 1361.9 623.8 1362.2 621.8C1362.4 619.8 1362.7 617.8 1363.0 615.8C1363.2 613.8 1363.5 611.8 1363.7 609.9C1364.0 607.9 1364.3 605.9 1364.5 603.9C1364.8 601.9 1365.0 599.9 1365.3 597.9C1365.6 595.9 1365.8 594.0 1366.1 592.0C1366.4 590.0 1366.6 588.0 1366.9 586.0C1367.1 584.0 1367.4 582.0 1367.7 580.0C1367.9 578.1 1368.2 576.1 1368.5 574.1C1368.8 572.1 1369.0 570.1 1369.3 568.1C1369.6 566.1 1369.8 564.1 1370.1 562.2C1370.4 560.2 1370.7 558.2 1370.9 556.2C1371.2 554.2 1371.5 552.2 1371.8 550.3C1372.1 548.3 1372.3 546.3 1372.6 544.3C1372.9 542.3 1373.2 540.3 1373.5 538.4C1373.7 536.4 1374.0 534.4 1374.3 532.4C1374.6 530.4 1374.9 528.4 1375.2 526.4C1375.4 524.5 1375.7 522.5 1376.0 520.5C1376.3 518.5 1376.6 516.5 1376.9 514.6C1377.1 512.6 1377.4 510.6 1377.7 508.6C1378.0 506.6 1378.3 504.6 1378.6 502.7C1378.9 500.7 1379.1 498.7 1379.4 496.7C1379.7 494.7 1380.0 492.7 1380.3 490.7C1380.6 488.8 1380.8 486.8 1381.1 484.8C1381.4 482.8 1381.7 480.8 1382.0 478.8C1382.2 476.9 1382.5 474.9 1382.8 472.9C1383.1 470.9 1383.4 468.9 1383.6 466.9C1383.9 464.9 1384.2 463.0 1384.5 461.0C1384.7 459.0 1385.0 457.0 1385.3 455.0C1385.5 453.0 1385.8 451.0 1386.1 449.0C1386.3 447.1 1386.6 445.1 1386.9 443.1C1387.1 441.1 1387.4 439.1 1387.7 437.1C1387.9 435.1 1388.2 433.1 1388.4 431.1C1388.7 429.2 1388.9 427.2 1389.2 425.2C1389.4 423.2 1389.7 421.2 1389.9 419.2C1390.2 417.2 1390.4 415.2 1390.7 413.2C1390.9 411.2 1391.2 409.2 1391.4 407.2C1391.6 405.2 1391.9 403.2 1392.1 401.2C1392.3 399.2 1392.6 397.2 1392.8 395.2C1393.0 393.2 1393.2 391.2 1393.5 389.2C1393.7 387.2 1393.9 385.3 1394.2 383.3C1394.4 381.3 1394.6 379.3 1394.9 377.3C1395.1 375.3 1395.3 373.3 1395.6 371.3C1395.8 369.3 1396.1 367.3 1396.3 365.3C1396.6 363.3 1396.8 361.3 1397.1 359.3C1397.3 357.3 1397.6 355.3 1397.9 353.4C1398.2 351.4 1398.4 349.4 1398.7 347.4C1399.0 345.4 1399.3 343.4 1399.6 341.5C1399.9 339.5 1400.3 337.5 1400.6 335.5C1400.9 333.6 1401.3 331.6 1401.6 329.6C1402.0 327.7 1402.4 325.7 1402.7 323.7C1403.1 321.8 1403.5 319.8 1403.9 317.9C1404.3 315.9 1404.8 313.9 1405.2 312.0C1405.6 310.1 1406.1 308.1 1406.6 306.2C1407.0 304.2 1407.5 302.3 1408.0 300.4C1408.5 298.4 1409.1 296.5 1409.6 294.6C1410.1 292.7 1410.7 290.8 1411.3 288.8C1411.9 286.9 1412.4 285.0 1413.0 283.1C1413.6 281.2 1414.3 279.3 1414.9 277.4C1415.5 275.5 1416.1 273.6 1416.8 271.7C1417.4 269.8 1418.1 267.9 1418.7 266.0C1419.4 264.1 1420.1 262.2 1420.8 260.3C1421.4 258.4 1422.1 256.5 1422.8 254.6C1423.5 252.7 1424.1 250.8 1424.8 248.9C1425.5 247.0 1426.2 245.1 1426.9 243.2C1427.6 241.4 1428.3 239.5 1429.0 237.5C1429.6 235.6 1430.3 233.7 1431.0 231.8C1431.7 229.9 1432.3 228.0 1433.0 226.1C1433.7 224.2 1434.3 222.3 1435.0 220.4C1435.7 218.5 1436.3 216.5 1436.9 214.6C1437.6 212.7 1438.2 210.8 1439.0 208.9C1439.7 207.1 1440.5 205.2 1441.4 203.5C1442.3 201.7 1443.3 200.0 1444.5 198.5C1445.7 196.9 1447.1 195.4 1448.6 194.1C1450.2 192.8 1451.9 191.6 1453.7 190.7C1455.5 189.7 1457.4 188.9 1459.3 188.5C1461.2 188.0 1463.2 187.8 1465.1 187.9C1467.1 188.1 1469.0 188.6 1470.8 189.3C1472.7 190.1 1474.5 191.2 1476.2 192.3C1478.0 193.4 1479.7 194.8 1481.4 196.0C1483.1 197.2 1484.7 198.4 1486.3 199.5C1488.0 200.7 1489.5 201.6 1491.2 202.7C1492.8 203.8 1494.5 204.9 1496.1 206.1C1497.7 207.3 1499.4 208.5 1500.8 209.9C1502.2 211.3 1503.5 212.8 1504.6 214.5C1505.6 216.2 1506.3 218.2 1507.0 220.1C1507.7 222.0 1508.1 224.1 1508.7 226.0C1509.3 228.0 1509.8 229.8 1510.5 231.7C1511.2 233.6 1511.9 235.4 1512.6 237.2C1513.3 239.0 1514.1 240.8 1514.9 242.6C1515.8 244.4 1516.6 246.3 1517.5 248.1C1518.4 250.0 1519.3 252.0 1520.4 253.8C1521.4 255.6 1522.5 257.4 1523.8 258.9C1525.1 260.3 1526.6 261.6 1528.3 262.4C1530.0 263.2 1532.0 263.5 1533.9 263.6C1535.9 263.7 1538.1 263.3 1540.1 263.1C1542.2 263.0 1544.3 262.5 1546.2 262.8C1548.1 263.1 1549.9 263.7 1551.5 264.7C1553.2 265.6 1554.7 267.2 1556.3 268.5C1557.8 269.9 1559.3 271.3 1560.8 272.7C1562.2 274.1 1563.7 275.5 1565.1 277.0C1566.5 278.4 1567.9 279.8 1569.3 281.3C1570.7 282.8 1572.0 284.2 1573.4 285.7C1574.7 287.2 1576.0 288.7 1577.3 290.2C1578.6 291.8 1579.9 293.3 1581.1 294.8C1582.4 296.4 1583.6 298.0 1584.8 299.5C1586.0 301.1 1587.2 302.7 1588.4 304.3C1589.6 305.9 1590.7 307.6 1591.9 309.2C1593.0 310.8 1594.1 312.5 1595.2 314.2C1596.3 315.9 1597.4 317.5 1598.5 319.3C1599.6 321.0 1600.6 322.7 1601.6 324.4C1602.7 326.1 1603.7 327.9 1604.7 329.7C1605.6 331.4 1606.6 333.2 1607.5 335.0C1608.5 336.8 1609.4 338.6 1610.3 340.4C1611.1 342.2 1612.0 344.0 1612.8 345.8C1613.6 347.7 1614.4 349.5 1615.2 351.4C1616.0 353.2 1616.7 355.1 1617.4 357.0C1618.1 358.9 1618.8 360.8 1619.5 362.6C1620.1 364.5 1620.7 366.4 1621.3 368.4C1621.9 370.3 1622.4 372.2 1622.9 374.1C1623.4 376.1 1623.9 378.0 1624.4 379.9C1624.9 381.9 1625.3 383.8 1625.8 385.8C1626.2 387.7 1626.6 389.7 1627.0 391.6C1627.4 393.6 1627.8 395.6 1628.1 397.5C1628.5 399.5 1628.9 401.5 1629.2 403.5C1629.6 405.4 1629.9 407.4 1630.2 409.4C1630.6 411.4 1630.9 413.3 1631.3 415.3C1631.6 417.3 1631.9 419.3 1632.3 421.2C1632.6 423.2 1632.9 425.2 1633.3 427.2C1633.6 429.2 1633.9 431.1 1634.2 433.1C1634.6 435.1 1634.9 437.1 1635.2 439.1C1635.5 441.0 1635.9 443.0 1636.2 445.0C1636.5 447.0 1636.8 449.0 1637.1 450.9C1637.4 452.9 1637.7 454.9 1638.0 456.9C1638.4 458.9 1638.7 460.9 1639.0 462.8C1639.3 464.8 1639.6 466.8 1639.9 468.8C1640.2 470.8 1640.5 472.8 1640.7 474.8C1641.0 476.7 1641.3 478.7 1641.6 480.7C1641.9 482.7 1642.2 484.7 1642.5 486.7C1642.8 488.7 1643.0 490.7 1643.3 492.6C1643.6 494.6 1643.9 496.6 1644.1 498.6C1644.4 500.6 1644.7 502.6 1645.0 504.6C1645.2 506.6 1645.5 508.5 1645.8 510.5C1646.0 512.5 1646.3 514.5 1646.5 516.5C1646.8 518.5 1647.0 520.5 1647.3 522.5C1647.6 524.5 1647.8 526.5 1648.1 528.4C1648.3 530.4 1648.5 532.4 1648.8 534.4C1649.0 536.4 1649.3 538.4 1649.5 540.4C1649.7 542.4 1650.0 544.4 1650.2 546.4C1650.4 548.4 1650.7 550.4 1650.9 552.3C1651.1 554.3 1651.3 556.3 1651.5 558.3C1651.8 560.3 1652.0 562.3 1652.2 564.3C1652.4 566.3 1652.6 568.3 1652.8 570.3C1653.0 572.3 1653.2 574.3 1653.4 576.3C1653.6 578.3 1653.8 580.2 1654.0 582.2C1654.2 584.2 1654.4 586.2 1654.6 588.2C1654.8 590.2 1655.0 592.2 1655.2 594.2C1655.4 596.2 1655.5 598.2 1655.7 600.2C1655.9 602.2 1656.1 604.2 1656.3 606.2C1656.4 608.2 1656.6 610.1 1656.8 612.1C1657.0 614.1 1657.1 616.1 1657.3 618.1C1657.5 620.1 1657.7 622.1 1657.8 624.1C1658.0 626.1 1658.2 628.1 1658.3 630.1C1658.5 632.1 1658.7 634.1 1658.8 636.1C1659.0 638.1 1659.2 640.1 1659.3 642.1C1659.5 644.1 1659.7 646.0 1659.9 648.0C1660.0 650.0 1660.2 652.0 1660.4 654.0C1660.5 656.0 1660.7 658.0 1660.9 660.0C1661.0 662.0 1661.2 664.0 1661.4 666.0C1661.6 668.0 1661.7 670.0 1661.9 672.0C1662.1 674.0 1662.2 676.0 1662.4 678.0C1662.6 680.0 1662.8 682.0 1663.0 684.0C1663.1 686.0 1663.3 688.0 1663.5 690.0C1663.7 692.0 1663.9 693.9 1664.1 695.9C1664.2 697.9 1664.4 699.9 1664.6 701.9C1664.8 703.9 1665.0 705.9 1665.2 707.9C1665.4 709.9 1665.6 711.9 1665.8 713.9C1666.0 715.9 1666.2 717.9 1666.4 719.9C1666.6 721.9 1666.9 723.9 1667.1 725.9C1667.3 727.9 1667.5 729.9 1667.7 731.9C1667.9 733.9 1668.2 735.9 1668.4 737.9C1668.6 739.9 1668.9 741.9 1669.1 743.9C1669.4 745.9 1669.6 747.9 1669.8 749.9C1670.1 751.9 1670.3 753.9 1670.6 755.9C1670.9 757.9 1671.1 759.9 1671.4 761.9C1671.7 763.9 1671.9 765.9 1672.2 767.9C1672.5 769.9 1672.8 771.9 1673.1 773.9C1673.3 775.9 1673.6 777.9 1673.9 779.9C1674.2 781.9 1674.5 783.9 1674.9 785.9C1675.2 787.9 1675.6 789.8 1675.9 791.8C1676.3 793.8 1676.7 795.8 1677.1 797.7C1677.6 799.7 1678.0 801.7 1678.5 803.6C1679.1 805.5 1679.6 807.5 1680.2 809.4C1680.8 811.3 1681.4 813.2 1682.1 815.1C1682.8 816.9 1683.6 818.8 1684.4 820.6C1685.2 822.5 1686.1 824.3 1687.0 826.1C1688.0 827.9 1689.0 829.7 1690.1 831.4C1691.2 833.1 1692.4 834.9 1693.6 836.5C1694.8 838.2 1696.2 839.8 1697.5 841.3C1698.9 842.7 1700.4 844.1 1701.9 845.4C1703.4 846.6 1704.9 847.7 1706.5 848.6C1708.1 849.5 1709.8 850.2 1711.5 850.9C1713.2 851.5 1714.9 851.9 1716.7 852.3C1718.5 852.6 1720.3 852.8 1722.2 852.9C1724.0 853.0 1725.9 853.0 1727.8 852.9C1729.7 852.8 1731.6 852.5 1733.6 852.2C1735.5 851.9 1737.5 851.5 1739.5 851.1C1741.5 850.6 1743.5 850.1 1745.5 849.5C1747.5 848.9 1749.5 848.3 1751.5 847.6C1753.5 846.9 1755.5 846.2 1757.5 845.4C1759.5 844.7 1761.5 843.9 1763.5 843.1C1765.5 842.3 1767.5 841.5 1769.4 840.7C1771.4 839.9 1773.3 839.1 1775.3 838.3C1777.2 837.5 1779.1 836.7 1781.0 835.9C1783.0 835.0 1784.9 834.2 1786.7 833.4C1788.6 832.6 1790.5 831.7 1792.4 830.9C1794.2 830.0 1796.1 829.2 1797.9 828.3C1799.8 827.5 1801.6 826.6 1803.4 825.7C1805.2 824.9 1807.0 824.0 1808.8 823.1C1810.6 822.2 1812.4 821.3 1814.2 820.4C1815.9 819.5 1817.7 818.6 1819.5 817.7C1821.2 816.8 1823.0 815.9 1824.7 815.0C1826.5 814.0 1828.2 813.1 1829.9 812.2C1831.6 811.2 1833.4 810.3 1835.1 809.3C1836.8 808.3 1838.5 807.4 1840.2 806.4C1841.9 805.4 1843.5 804.4 1845.2 803.4C1846.9 802.4 1848.6 801.4 1850.2 800.4C1851.9 799.4 1853.6 798.4 1855.2 797.3C1856.9 796.3 1858.5 795.2 1860.2 794.2C1861.8 793.1 1863.5 792.1 1865.1 791.0C1866.7 789.9 1868.4 788.8 1870.0 787.7C1871.6 786.6 1873.2 785.5 1874.9 784.4C1876.5 783.3 1878.1 782.1 1879.7 781.0C1881.3 779.8 1882.9 778.7 1884.6 777.5C1886.2 776.3 1887.8 775.2 1889.4 774.0C1891.0 772.8 1892.6 771.6 1894.2 770.3C1895.8 769.1 1897.4 767.9 1899.0 766.6C1900.6 765.4 1902.2 764.1 1903.8 762.9C1905.4 761.6 1907.0 760.3 1908.6 759.0C1910.2 757.7 1911.8 756.4 1913.4 755.1C1915.0 753.7 1916.6 752.4 1918.2 751.0C1919.8 749.7 1922.2 747.6 1923.0 746.9" stroke="#2b2b29" stroke-width="1.55"/>
</g>
<g id="arrows">
<line x1="195.1" y1="1304.6999999999998" x2="1040.5" y2="1304.6999999999998" stroke="#d9d9d9" stroke-width="1.6"/><line x1="195.1" y1="1303.1" x2="1040.5" y2="1303.1" stroke="#30302e" stroke-width="1.9"/><path d="M176.2 1303.1L199.29999999999998 1293.1999999999998L198.1 1303.1L199.29999999999998 1313.0Z" fill="#1d1d1b"/><path d="M1059.4 1303.1L1036.3 1293.1999999999998L1037.5 1303.1L1036.3 1313.0Z" fill="#1d1d1b"/>
<line x1="1080.9" y1="1304.6999999999998" x2="1321.3" y2="1304.6999999999998" stroke="#d9d9d9" stroke-width="1.6"/><line x1="1080.9" y1="1303.1" x2="1321.3" y2="1303.1" stroke="#30302e" stroke-width="1.9"/><path d="M1062 1303.1L1085.1000000000001 1293.1999999999998L1083.9 1303.1L1085.1000000000001 1313.0Z" fill="#1d1d1b"/><path d="M1340.2 1303.1L1317.1 1293.1999999999998L1318.3 1303.1L1317.1 1313.0Z" fill="#1d1d1b"/>
<line x1="1362.6000000000001" y1="1304.6999999999998" x2="1901.2" y2="1304.6999999999998" stroke="#d9d9d9" stroke-width="1.6"/><line x1="1362.6000000000001" y1="1303.1" x2="1901.2" y2="1303.1" stroke="#30302e" stroke-width="1.9"/><path d="M1343.7 1303.1L1366.8000000000002 1293.1999999999998L1365.6000000000001 1303.1L1366.8000000000002 1313.0Z" fill="#1d1d1b"/><path d="M1918.8 1303.1L1897.0 1293.1999999999998L1898.2 1303.1L1897.0 1313.0Z" fill="#1d1d1b"/>
<line x1="241.8" y1="343" x2="241.8" y2="427" stroke="#7a7a78" stroke-width="3.1"/>
<path d="M241.8 322.6L230.9 344.6L252.7 344.6Z" fill="#1d1d1b"/>
<path d="M241.8 446.6L230.9 425L252.7 425Z" fill="#1d1d1b"/>
</g>
<g id="frame">
<path d="M172 124.1L1930 122.1L1930 126.3L172 128.3Z" fill="#1d1d1b"/>
<rect x="172" y="1363.4" width="1755" height="4.5" fill="#1d1d1b"/>
<rect x="171.9" y="124.1" width="4.6" height="1243.8" fill="#1d1d1b"/>
<path d="M1930 122.1L1930 1367.9L1926 1367.9L1926 122.1Z" fill="#ababab"/>
<path d="M1924.2 122.1L1930 122.1L1930 600L1925.8 1200L1925.8 1367.9L1922 1367.9Z" fill="#1d1d1b"/>
<rect x="156.3" y="200.85" width="17" height="4.7" fill="#1d1d1b"/>
<rect x="156.3" y="416.55" width="17" height="4.7" fill="#1d1d1b"/>
<rect x="156.3" y="633.15" width="17" height="4.7" fill="#1d1d1b"/>
<rect x="156.3" y="844.25" width="17" height="4.7" fill="#1d1d1b"/>
<rect x="156.3" y="1067.85" width="17" height="4.7" fill="#1d1d1b"/>
<rect x="156.3" y="1282.25" width="17" height="4.7" fill="#1d1d1b"/>
<rect x="431.45" y="1366" width="4.3" height="13.6" fill="#1d1d1b"/>
<rect x="660.40" y="1366" width="5.0" height="17.6" fill="#1d1d1b"/>
<rect x="875.30" y="1366" width="4.0" height="17.0" fill="#1d1d1b"/>
<rect x="1118.05" y="1366" width="4.3" height="16.6" fill="#1d1d1b"/>
<rect x="1337.05" y="1366" width="4.3" height="15.4" fill="#1d1d1b"/>
<rect x="1576.50" y="1366" width="4.4" height="16.6" fill="#1d1d1b"/>
<rect x="1836.50" y="1366" width="4.4" height="16.8" fill="#1d1d1b"/>
</g>
</svg>
</body>
</html>
